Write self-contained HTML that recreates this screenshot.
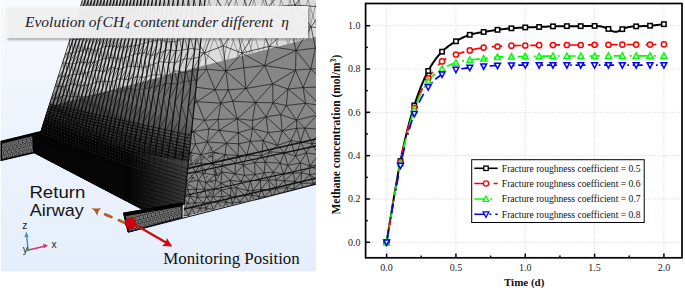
<!DOCTYPE html>
<html><head><meta charset="utf-8"><style>
html,body{margin:0;padding:0;background:#fff;width:685px;height:291px;overflow:hidden;font-family:"Liberation Sans",sans-serif}
svg{display:block}
</style></head><body>
<svg width="685" height="291" viewBox="0 0 685 291">
<defs>
<linearGradient id="bg" x1="0" y1="0" x2="0" y2="1">
<stop offset="0" stop-color="#f8fafd"/><stop offset="0.45" stop-color="#eef4fc"/><stop offset="1" stop-color="#e5eefc"/>
</linearGradient>
<linearGradient id="dk2" gradientUnits="userSpaceOnUse" x1="115" y1="88" x2="94.6" y2="144.7">
<stop offset="0" stop-color="#000" stop-opacity="0"/><stop offset="0.3" stop-color="#000" stop-opacity="0.2"/><stop offset="0.6" stop-color="#000" stop-opacity="0.45"/><stop offset="0.85" stop-color="#000" stop-opacity="0.74"/><stop offset="1" stop-color="#000" stop-opacity="0.95"/>
</linearGradient>
<linearGradient id="lt" gradientUnits="userSpaceOnUse" x1="185" y1="0" x2="128" y2="0">
<stop offset="0" stop-color="#5a5a5a" stop-opacity="0.6"/><stop offset="1" stop-color="#5a5a5a" stop-opacity="0"/>
</linearGradient>
<clipPath id="pc"><rect x="0" y="0" width="316" height="271.5"/></clipPath>
<clipPath id="lf"><polygon points="82,0 205,0 184,205 142,209.5 33,152.5 33,133.2 40.3,131.9"/></clipPath>
<clipPath id="rf"><polygon points="205,0 316,0 316,184.2 183.5,216.8 184,205"/></clipPath>
<pattern id="barmesh" width="4.2" height="7.2" patternUnits="userSpaceOnUse" patternTransform="rotate(-13) translate(0.5,0.8)">
<rect width="4.2" height="7.2" fill="#2c2c2c"/><g fill="none" stroke="#b4b4b4" stroke-width="0.7"><circle cx="2.1" cy="1.8" r="1.3"/><circle cx="0" cy="5.4" r="1.3"/><circle cx="4.2" cy="5.4" r="1.3"/></g>
</pattern>
<pattern id="fine" width="2" height="2" patternUnits="userSpaceOnUse" patternTransform="rotate(-15)">
<rect width="2" height="2" fill="#979797"/><path d="M0,1 L2,1" stroke="#666" stroke-width="0.7"/>
</pattern>
</defs>
<g clip-path="url(#pc)">
<rect x="0" y="0" width="316" height="271.5" fill="url(#bg)"/>
<rect x="0" y="0" width="1" height="271.5" fill="#fbfcfe"/>
<g clip-path="url(#rf)">
<rect x="180" y="0" width="140" height="230" fill="#dcdcdc"/>
<polygon points="150,80 199.5,66.8 316,36.7 316,230 150,230" fill="url(#fine)"/>
<clipPath id="wz"><polygon points="150,0 316,0 316,36.7 199.5,66.8 150,80"/></clipPath>
<path d="M200.0,0 L183.5,70 M200.0,0 L226.8,70 M209.0,0 L194.3,70 M209.0,0 L227.7,70 M218.0,0 L197.6,70 M218.0,0 L244.5,70 M227.0,0 L203.1,70 M227.0,0 L252.9,70 M236.0,0 L221.6,70 M236.0,0 L257.6,70 M245.0,0 L224.6,70 M245.0,0 L264.3,70 M254.0,0 L233.1,70 M254.0,0 L275.3,70 M263.0,0 L245.1,70 M263.0,0 L285.6,70 M272.0,0 L259.9,70 M272.0,0 L297.5,70 M281.0,0 L264.5,70 M281.0,0 L308.9,70 M290.0,0 L268.6,70 M290.0,0 L307.9,70 M299.0,0 L282.4,70 M299.0,0 L315.5,70 M308.0,0 L284.4,70 M308.0,0 L330.2,70 M317.0,0 L298.6,70 M317.0,0 L344.0,70" stroke="#555" stroke-width="0.5" fill="none" clip-path="url(#wz)"/>
<path d="M170.7,29.7 L164.1,66.6 M317.2,115.0 L331.1,117.3 M286.3,105.5 L296.5,120.1 M236.3,26.3 L242.0,53.1 M225.1,154.7 L237.9,155.5 M271.9,197.4 L278.9,202.6 M286.8,187.7 L281.1,195.7 M318.6,154.8 L309.9,165.8 M313.6,183.1 L319.6,181.2 M177.9,133.5 L181.5,143.5 M178.7,10.7 L196.1,8.8 M206.0,182.7 L204.6,189.2 M283.8,215.5 L282.7,222.1 M192.2,86.7 L215.1,89.7 M282.2,131.0 L290.9,140.7 M325.3,207.5 L333.5,209.6 M321.9,202.2 L318.0,208.2 M192.2,86.7 L196.8,101.7 M237.9,155.5 L246.8,155.1 M281.1,195.7 L285.2,202.9 M235.0,173.8 L244.4,175.2 M203.0,173.4 L198.3,180.3 M325.9,233.6 L333.3,234.4 M321.6,228.1 L318.9,235.0 M312.1,143.7 L306.3,152.9 M187.7,203.3 L185.2,208.8 M221.2,190.1 L222.0,196.5 M230.4,195.8 L235.9,196.6 M215.8,180.2 L214.1,189.3 M235.0,173.8 L241.0,181.4 M215.1,89.7 L228.3,89.9 M282.7,222.1 L284.3,226.6 M237.2,118.8 L238.4,132.6 M219.1,130.3 L238.4,132.6 M215.1,89.7 L220.8,103.2 M224.8,215.6 L220.6,221.6 M226.9,222.2 L237.0,221.3 M169.7,195.0 L163.9,203.5 M244.4,175.2 L255.2,174.6 M185.2,208.8 L189.1,215.6 M330.0,226.6 L325.9,233.6 M268.5,180.0 L270.2,190.5 M244.4,175.2 L250.6,180.5 M299.7,201.4 L306.7,201.8 M238.4,132.6 L252.5,128.6 M306.3,152.9 L318.6,154.8 M298.8,226.6 L307.4,227.0 M240.0,201.9 L242.6,208.2 M196.4,189.2 L204.6,189.2 M276.4,188.5 L281.1,195.7 M170.7,29.7 L190.3,30.1 M276.1,179.9 L276.4,188.5 M306.7,201.8 L314.7,203.9 M203.4,214.7 L209.1,215.0 M329.6,86.7 L320.1,105.4 M318.6,154.8 L328.3,153.5 M307.4,227.0 L315.9,229.2 M225.1,154.7 L212.5,163.9 M318.0,208.2 L315.6,213.8 M281.1,195.7 L289.6,196.1 M301.4,172.9 L301.0,183.3 M167.0,100.8 L179.7,101.8 M165.7,131.7 L169.5,143.3 M209.1,215.0 L217.5,214.1 M167.0,100.8 L172.2,120.1 M276.6,216.0 L275.4,220.9 M282.7,222.1 L290.1,221.2 M222.0,196.5 L217.7,202.1 M309.5,174.6 L321.8,172.8 M235.8,208.9 L238.8,214.5 M328.4,180.2 L327.6,189.9 M309.5,174.6 L313.6,183.1 M185.2,208.8 L191.9,207.5 M169.5,143.3 L181.5,143.5 M273.0,102.8 L280.7,114.6 M225.9,70.9 L228.3,89.9 M290.1,221.2 L294.4,222.4 M182.9,163.6 L182.4,173.3 M182.1,234.6 L192.6,235.4 M293.2,202.6 L295.3,208.7 M252.9,190.7 L260.9,189.2 M239.3,-14.9 L225.1,12.0 M198.3,180.3 L196.4,189.2 M191.9,207.5 L200.1,208.2 M166.4,174.5 L168.9,182.8 M253.8,214.1 L262.4,213.7 M221.9,165.2 L235.4,163.3 M192.6,235.4 L196.9,234.3 M185.9,227.2 L182.1,234.6 M286.3,105.5 L305.6,103.3 M268.1,132.6 L263.1,140.6 M262.4,213.7 L269.8,214.1 M286.3,105.5 L280.7,114.6 M170.5,222.7 L166.2,226.7 M254.5,162.5 L264.2,172.8 M271.9,197.4 L268.3,202.1 M206.0,182.7 L215.8,180.2 M331.1,117.3 L329.6,142.0 M163.9,203.5 L171.4,202.3 M214.1,189.3 L206.5,196.9 M235.8,208.9 L242.6,208.2 M282.2,131.0 L277.6,145.4 M218.1,119.4 L208.9,129.0 M166.2,226.7 L172.6,226.5 M192.2,86.7 L179.7,101.8 M240.7,227.6 L243.3,233.2 M235.6,232.9 L243.3,233.2 M165.7,131.7 L167.1,155.5 M225.1,12.0 L215.1,25.4 M221.2,190.1 L212.9,196.9 M260.3,180.6 L252.9,190.7 M242.6,208.2 L252.0,209.6 M235.0,173.8 L230.0,180.4 M237.2,118.8 L219.1,130.3 M247.9,190.6 L251.9,195.1 M223.3,45.9 L225.9,70.9 M326.4,194.7 L329.5,202.6 M261.8,155.9 L265.2,162.3 M243.3,233.2 L249.7,234.5 M206.5,69.2 L215.1,89.7 M319.6,190.3 L327.6,189.9 M268.5,180.0 L260.9,189.2 M207.4,142.0 L200.9,154.7 M315.6,213.8 L323.1,215.4 M220.6,221.6 L216.7,228.7 M329.6,165.1 L331.6,174.1 M269.5,151.8 L280.2,163.1 M250.3,141.4 L261.8,155.9 M215.1,25.4 L223.3,45.9 M217.7,202.1 L225.9,202.0 M276.4,188.5 L271.9,197.4 M205.8,235.0 L228.6,235.7 M304.1,190.0 L312.9,194.6 M216.7,228.7 L225.5,228.6 M168.4,164.8 L175.6,172.8 M291.4,227.2 L296.6,234.2 M263.1,140.6 L269.5,151.8 M311.1,26.9 L337.5,30.4 M180.9,203.0 L175.8,208.1 M301.4,172.9 L295.0,181.4 M195.5,215.9 L199.2,222.0 M212.5,163.9 L221.9,165.2 M296.6,234.2 L302.5,234.6 M180.2,228.9 L176.2,235.2 M175.4,88.0 L167.0,100.8 M326.4,194.7 L334.1,195.2 M273.0,102.8 L286.3,105.5 M273.0,102.8 L266.0,116.8 M275.4,220.9 L269.9,229.0 M221.9,172.0 L221.0,183.3 M182.9,163.6 L175.6,172.8 M167.1,155.5 L168.4,164.8 M198.3,180.3 L206.0,182.7 M204.6,52.9 L206.5,69.2 M175.8,208.1 L171.1,214.6 M250.3,141.4 L263.1,140.6 M331.0,214.3 L327.9,220.8 M243.4,165.2 L244.4,175.2 M174.6,155.3 L182.9,163.6 M288.3,209.2 L292.1,214.9 M304.1,190.0 L312.0,190.0 M296.0,50.5 L315.4,48.1 M232.4,203.2 L229.8,208.6 M249.2,213.7 L250.6,220.3 M263.1,140.6 L277.6,145.4 M327.9,220.8 L330.0,226.6 M190.0,196.1 L194.9,202.8 M287.7,165.5 L300.2,162.8 M254.5,162.5 L255.2,174.6 M232.0,228.6 L228.6,235.7 M312.0,190.0 L319.6,190.3 M192.8,223.0 L196.0,228.2 M229.8,208.6 L231.1,214.1 M218.1,119.4 L237.2,118.8 M309.1,216.3 L315.6,213.8 M300.2,162.8 L309.9,165.8 M246.8,155.1 L243.4,165.2 M240.7,227.6 L235.6,232.9 M320.7,129.4 L329.6,142.0 M260.3,180.6 L268.5,180.0 M207.1,-15.0 L239.3,-14.9 M210.5,202.1 L217.7,202.1 M237.2,118.8 L252.6,120.4 M167.1,155.5 L174.6,155.3 M209.8,229.0 L216.7,228.7 M326.4,194.7 L321.9,202.2 M261.8,155.9 L254.5,162.5 M268.5,180.0 L276.1,179.9 M239.3,-14.9 L259.4,-16.8 M206.5,69.2 L192.2,86.7 M264.7,65.6 L295.5,70.1 M285.2,202.9 L280.3,209.2 M288.3,209.2 L295.3,208.7 M174.6,155.3 L190.9,152.6 M245.0,195.5 L248.7,202.0 M182.4,173.3 L195.6,172.0 M329.6,165.1 L321.8,172.8 M328.3,153.5 L329.6,165.1 M288.9,233.4 L296.6,234.2 M250.3,141.4 L246.8,155.1 M284.3,226.6 L281.6,235.2 M190.0,196.1 L197.2,197.4 M245.1,222.3 L245.7,229.3 M215.1,25.4 L204.6,52.9 M182.6,189.1 L183.1,197.3 M295.5,70.1 L310.8,69.0 M280.3,209.2 L283.8,215.5 M189.1,215.6 L182.0,222.5 M192.8,223.0 L199.2,222.0 M205.8,235.0 L222.4,234.2 M304.1,190.0 L304.0,196.2 M195.6,172.0 L203.0,173.4 M168.4,164.8 L166.4,174.5 M306.2,-8.3 L324.8,7.2 M319.6,181.2 L328.4,180.2 M291.4,227.2 L288.9,233.4 M183.1,197.3 L187.7,203.3 M221.0,183.3 L231.2,188.1 M262.3,203.0 L268.3,202.1 M170.4,209.9 L165.8,214.2 M172.2,120.1 L177.9,133.5 M165.7,131.7 L177.9,133.5 M182.0,222.5 L185.9,227.2 M246.8,155.1 L261.8,155.9 M195.5,215.9 L192.8,223.0 M263.4,227.2 L269.9,229.0 M164.1,66.6 L165.7,131.7 M236.4,187.9 L245.0,195.5 M225.1,12.0 L247.3,9.3 M230.0,180.4 L236.4,187.9 M165.8,214.2 L171.1,214.6 M238.8,214.5 L245.1,222.3 M261.8,155.9 L269.5,151.8 M269.9,229.0 L277.3,227.3 M221.9,172.0 L215.8,180.2 M245.0,195.5 L251.9,195.1 M294.4,222.4 L298.8,226.6 M204.6,52.9 L181.1,71.9 M318.6,196.4 L314.7,203.9 M245.9,88.5 L272.6,83.8 M266.0,116.8 L268.1,132.6 M245.9,88.5 L255.5,102.4 M245.1,222.3 L250.6,220.3 M264.2,172.8 L273.3,172.0 M243.4,165.2 L235.0,173.8 M235.9,196.6 L240.0,201.9 M284.3,180.9 L286.8,187.7 M314.7,203.9 L321.9,202.2 M238.6,143.8 L237.9,155.5 M222.5,208.7 L217.5,214.1 M268.1,132.6 L282.2,131.0 M280.7,114.6 L282.2,131.0 M296.0,50.5 L310.8,69.0 M250.6,220.3 L257.4,220.6 M249.2,213.7 L245.1,222.3 M315.9,229.2 L321.6,228.1 M327.9,220.8 L321.6,228.1 M334.1,188.1 L334.5,220.4 M293.3,173.0 L284.3,180.9 M214.1,189.3 L221.2,190.1 M293.4,189.0 L297.1,194.8 M295.0,181.4 L293.4,189.0 M229.8,208.6 L224.8,215.6 M217.5,214.1 L224.8,215.6 M321.6,228.1 L330.0,226.6 M171.6,188.1 L177.8,196.3 M194.9,202.8 L200.1,208.2 M224.8,215.6 L231.1,214.1 M294.4,222.4 L302.8,220.4 M301.2,214.1 L302.8,220.4 M255.5,102.4 L237.2,118.8 M203.7,202.9 L206.2,207.9 M208.9,129.0 L207.4,142.0 M305.6,103.3 L317.2,115.0 M264.7,65.6 L272.6,83.8 M302.8,220.4 L312.4,222.1 M201.8,228.3 L205.8,235.0 M333.5,209.6 L334.5,220.4 M289.0,-15.3 L267.7,7.3 M328.3,153.5 L320.4,165.0 M177.8,196.3 L171.4,202.3 M196.1,8.8 L225.1,12.0 M182.6,189.1 L177.8,196.3 M182.4,173.3 L185.6,182.5 M280.3,209.2 L276.6,216.0 M320.1,105.4 L331.1,117.3 M205.8,235.0 L212.1,233.6 M200.9,154.7 L212.5,163.9 M215.1,174.8 L206.0,182.7 M306.2,-8.3 L294.9,5.0 M183.1,197.3 L180.9,203.0 M231.2,188.1 L230.4,195.8 M221.0,183.3 L221.2,190.1 M228.3,89.9 L245.9,88.5 M304.8,128.1 L312.1,143.7 M276.6,216.0 L283.8,215.5 M228.3,89.9 L232.8,101.2 M182.0,222.5 L180.2,228.9 M280.2,163.1 L283.7,174.3 M255.2,174.6 L264.2,172.8 M267.7,7.3 L290.6,26.1 M236.4,187.9 L235.9,196.6 M256.3,203.2 L257.1,209.5 M255.2,174.6 L260.3,180.6 M252.5,128.6 L268.1,132.6 M321.8,172.8 L328.4,180.2 M238.8,214.5 L237.0,221.3 M260.5,234.5 L274.0,235.0 M255.8,227.0 L260.5,234.5 M294.9,5.0 L311.1,26.9 M190.3,30.1 L215.1,25.4 M333.5,209.6 L331.0,214.3 M164.1,66.6 L163.1,189.2 M266.0,116.8 L252.5,128.6 M289.0,-15.3 L333.1,-8.7 M235.9,196.6 L232.4,203.2 M284.3,180.9 L276.4,188.5 M179.7,101.8 L196.8,101.7 M179.7,101.8 L185.2,117.0 M237.0,221.3 L232.0,228.6 M168.4,164.8 L182.9,163.6 M302.5,234.6 L318.9,235.0 M175.6,172.8 L180.2,181.2 M336.4,67.5 L331.1,117.3 M277.6,145.4 L284.2,152.7 M259.8,24.9 L269.2,46.3 M293.4,189.0 L289.6,196.1 M297.1,194.8 L304.0,196.2 M196.8,101.7 L220.8,103.2 M228.6,235.7 L260.5,234.5 M193.4,131.6 L195.4,143.9 M181.5,143.5 L195.4,143.9 M167.3,235.4 L228.6,235.7 M292.1,214.9 L290.1,221.2 M191.2,164.3 L195.6,172.0 M334.1,195.2 L334.5,220.4 M290.9,140.7 L295.6,156.2 M252.0,209.6 L253.8,214.1 M290.6,26.1 L296.0,50.5 M259.4,-16.8 L247.3,9.3 M289.6,196.1 L293.2,202.6 M172.3,52.4 L204.6,52.9 M171.6,188.1 L169.7,195.0 M200.1,208.2 L206.2,207.9 M194.9,202.8 L191.9,207.5 M195.4,143.9 L207.4,142.0 M290.1,221.2 L291.4,227.2 M235.4,163.3 L243.4,165.2 M301.2,214.1 L294.4,222.4 M201.1,163.0 L203.0,173.4 M196.0,228.2 L192.6,235.4 M196.9,234.3 L205.8,235.0 M270.2,190.5 L276.4,188.5 M204.6,52.9 L223.3,45.9 M191.9,207.5 L195.5,215.9 M305.6,103.3 L320.1,105.4 M203.7,202.9 L200.1,208.2 M269.8,214.1 L276.6,216.0 M305.6,103.3 L296.5,120.1 M243.4,165.2 L254.5,162.5 M201.8,228.3 L196.9,234.3 M329.6,142.0 L329.6,165.1 M242.0,53.1 L243.8,67.7 M171.4,202.3 L180.9,203.0 M204.6,189.2 L214.1,189.3 M277.6,145.4 L290.9,140.7 M296.8,128.2 L290.9,140.7 M172.6,226.5 L180.2,228.9 M265.2,162.3 L264.2,172.8 M221.0,183.3 L230.0,180.4 M200.9,154.7 L201.1,163.0 M303.8,209.2 L309.1,216.3 M269.2,46.3 L264.7,65.6 M247.3,9.3 L236.3,26.3 M164.1,66.6 L181.1,71.9 M252.0,209.6 L257.1,209.5 M248.7,202.0 L242.6,208.2 M325.3,207.5 L323.1,215.4 M304.8,128.1 L300.6,142.0 M290.9,140.7 L300.6,142.0 M167.3,235.4 L192.6,235.4 M206.5,196.9 L210.5,202.1 M289.6,196.1 L297.1,194.8 M280.2,163.1 L273.3,172.0 M249.7,234.5 L260.5,234.5 M245.7,229.3 L243.3,233.2 M181.5,143.5 L190.9,152.6 M327.6,189.9 L334.1,188.1 M206.9,221.7 L209.8,229.0 M267.7,7.3 L259.8,24.9 M230.4,195.8 L225.9,202.0 M181.1,71.9 L206.5,69.2 M321.8,172.8 L331.6,174.1 M242.6,208.2 L249.2,213.7 M256.3,203.2 L252.0,209.6 M323.1,215.4 L331.0,214.3 M226.9,222.2 L225.5,228.6 M320.4,165.0 L329.6,165.1 M321.8,172.8 L319.6,181.2 M284.2,152.7 L287.7,165.5 M189.0,-14.4 L196.1,8.8 M255.8,227.0 L249.7,234.5 M319.6,190.3 L326.4,194.7 M165.7,131.7 L163.1,189.2 M243.8,67.7 L245.9,88.5 M225.9,202.0 L232.4,203.2 M299.7,201.4 L303.8,209.2 M266.0,116.8 L280.7,114.6 M260.9,189.2 L270.2,190.5 M225.5,228.6 L232.0,228.6 M298.8,226.6 L302.5,234.6 M284.3,180.9 L295.0,181.4 M289.0,-15.3 L306.2,-8.3 M236.3,26.3 L223.3,45.9 M185.6,182.5 L196.4,189.2 M306.7,201.8 L310.1,210.2 M303.8,209.2 L310.1,210.2 M203.4,214.7 L206.9,221.7 M200.9,154.7 L213.0,152.1 M177.9,133.5 L169.5,143.3 M334.1,195.2 L333.5,209.6 M175.6,172.8 L168.9,182.8 M302.5,234.6 L312.4,233.2 M307.4,227.0 L312.4,233.2 M277.6,145.4 L269.5,151.8 M206.5,196.9 L212.9,196.9 M259.8,24.9 L242.0,53.1 M281.1,195.7 L278.9,202.6 M334.5,220.4 L333.3,234.4 M215.8,180.2 L221.0,183.3 M209.1,215.0 L215.4,221.8 M206.9,221.7 L215.4,221.8 M193.4,131.6 L181.5,143.5 M228.6,235.7 L249.7,234.5 M282.7,222.1 L277.3,227.3 M163.9,203.5 L165.8,214.2 M191.2,164.3 L182.4,173.3 M215.1,89.7 L196.8,101.7 M241.0,181.4 L247.9,190.6 M278.9,202.6 L285.2,202.9 M289.6,196.1 L285.2,202.9 M169.5,143.3 L174.6,155.3 M185.2,208.8 L181.0,215.1 M204.5,120.3 L208.9,129.0 M277.3,227.3 L284.3,226.6 M290.1,221.2 L284.3,226.6 M244.4,175.2 L241.0,181.4 M189.0,-14.4 L259.4,-16.8 M252.9,190.7 L258.9,196.8 M309.9,165.8 L320.4,165.0 M250.6,180.5 L252.9,190.7 M296.5,120.1 L304.8,128.1 M192.6,235.4 L228.6,235.7 M287.9,89.0 L305.6,103.3 M253.8,214.1 L257.4,220.6 M309.9,165.8 L321.8,172.8 M240.0,201.9 L235.8,208.9 M191.9,207.5 L189.1,215.6 M260.9,189.2 L264.6,196.7 M242.0,53.1 L225.9,70.9 M334.1,195.2 L329.5,202.6 M317.2,115.0 L320.7,129.4 M262.4,213.7 L265.5,221.4 M281.6,235.2 L302.5,234.6 M334.5,220.4 L330.0,226.6 M166.6,-11.9 L178.7,10.7 M313.6,183.1 L319.6,190.3 M163.9,203.5 L170.4,209.9 M235.8,208.9 L231.1,214.1 M252.6,120.4 L266.0,116.8 M166.2,226.7 L167.3,235.4 M309.5,174.6 L301.0,183.3 M259.4,-16.8 L289.0,-15.3 M225.9,70.9 L215.1,89.7 M242.6,208.2 L238.8,214.5 M293.2,202.6 L288.3,209.2 M319.6,190.3 L318.6,196.4 M188.0,189.7 L190.0,196.1 M180.2,181.2 L182.6,189.1 M310.8,69.0 L336.4,67.5 M238.4,132.6 L250.3,141.4 M299.7,201.4 L295.3,208.7 M310.8,69.0 L329.6,86.7 M315.6,213.8 L317.7,220.8 M221.9,165.2 L235.0,173.8 M298.8,226.6 L296.6,234.2 M196.4,189.2 L197.2,197.4 M217.7,202.1 L222.5,208.7 M190.9,152.6 L191.2,164.3 M295.3,208.7 L301.2,214.1 M185.2,117.0 L193.4,131.6 M177.9,133.5 L193.4,131.6 M203.4,214.7 L199.2,222.0 M216.7,228.7 L222.4,234.2 M215.1,174.8 L221.9,172.0 M178.7,10.7 L190.3,30.1 M197.2,197.4 L203.7,202.9 M247.3,9.3 L267.7,7.3 M199.2,222.0 L201.8,228.3 M171.6,188.1 L182.6,189.1 M247.9,190.6 L245.0,195.5 M241.0,181.4 L236.4,187.9 M272.6,83.8 L287.9,89.0 M169.5,143.3 L167.1,155.5 M181.0,215.1 L189.1,215.6 M272.6,83.8 L273.0,102.8 M220.8,103.2 L237.2,118.8 M324.8,7.2 L337.5,30.4 M252.9,190.7 L251.9,195.1 M312.4,222.1 L315.9,229.2 M258.9,196.8 L264.6,196.7 M269.5,151.8 L265.2,162.3 M276.1,179.9 L284.3,180.9 M296.5,120.1 L296.8,128.2 M168.9,182.8 L171.6,188.1 M257.4,220.6 L265.5,221.4 M309.9,165.8 L309.5,174.6 M253.8,214.1 L250.6,220.3 M283.7,174.3 L293.3,173.0 M295.3,208.7 L303.8,209.2 M295.5,70.1 L303.1,87.5 M170.7,29.7 L172.3,52.4 M190.9,152.6 L200.9,154.7 M251.9,195.1 L256.3,203.2 M236.3,26.3 L259.8,24.9 M301.0,183.3 L304.1,190.0 M263.1,140.6 L261.8,155.9 M197.2,197.4 L206.5,196.9 M250.6,220.3 L255.8,227.0 M199.2,222.0 L206.9,221.7 M231.2,188.1 L236.4,187.9 M312.0,190.0 L312.9,194.6 M203.0,173.4 L215.1,174.8 M231.1,214.1 L238.8,214.5 M309.1,216.3 L312.4,222.1 M191.2,164.3 L201.1,163.0 M212.5,163.9 L221.9,172.0 M268.3,202.1 L278.9,202.6 M312.9,194.6 L318.6,196.4 M210.5,202.1 L213.5,209.8 M163.1,189.2 L171.6,188.1 M219.1,130.3 L226.4,143.2 M312.4,222.1 L317.7,220.8 M209.8,229.0 L212.1,233.6 M180.2,181.2 L185.6,182.5 M171.1,214.6 L181.0,215.1 M165.8,214.2 L166.2,226.7 M269.5,151.8 L284.2,152.7 M304.0,196.2 L306.7,201.8 M188.0,189.7 L183.1,197.3 M213.5,209.8 L222.5,208.7 M174.6,155.3 L168.4,164.8 M288.3,209.2 L283.8,215.5 M226.4,143.2 L238.6,143.8 M302.8,220.4 L307.4,227.0 M251.9,195.1 L258.9,196.8 M264.2,172.8 L268.5,180.0 M315.6,213.8 L312.4,222.1 M221.9,165.2 L221.9,172.0 M167.1,155.5 L163.1,189.2 M286.8,187.7 L293.4,189.0 M333.1,-8.7 L324.8,7.2 M190.0,196.1 L187.7,203.3 M273.3,172.0 L283.7,174.3 M206.2,207.9 L209.1,215.0 M190.9,152.6 L182.9,163.6 M283.8,215.5 L292.1,214.9 M295.3,208.7 L292.1,214.9 M329.6,86.7 L331.1,117.3 M185.2,117.0 L177.9,133.5 M265.2,162.3 L280.2,163.1 M287.7,165.5 L293.3,173.0 M273.3,172.0 L276.1,179.9 M216.7,228.7 L212.1,233.6 M282.2,131.0 L296.8,128.2 M321.9,202.2 L329.5,202.6 M225.1,154.7 L235.4,163.3 M315.4,48.1 L336.4,67.5 M192.8,223.0 L185.9,227.2 M197.2,197.4 L194.9,202.8 M187.7,203.3 L194.9,202.8 M262.3,203.0 L267.4,208.6 M221.2,190.1 L231.2,188.1 M320.7,129.4 L312.1,143.7 M199.2,222.0 L196.0,228.2 M300.2,162.8 L301.4,172.9 M263.4,227.2 L266.8,233.7 M241.0,181.4 L250.6,180.5 M182.9,163.6 L191.2,164.3 M267.4,208.6 L272.1,209.3 M268.3,202.1 L272.1,209.3 M165.8,214.2 L170.5,222.7 M304.0,196.2 L312.9,194.6 M220.8,103.2 L232.8,101.2 M269.9,229.0 L274.0,235.0 M220.8,103.2 L218.1,119.4 M324.8,7.2 L311.1,26.9 M245.0,195.5 L240.0,201.9 M168.9,182.8 L180.2,181.2 M171.1,214.6 L174.8,221.0 M296.5,120.1 L282.2,131.0 M245.1,222.3 L240.7,227.6 M168.9,182.8 L163.1,189.2 M206.2,207.9 L213.5,209.8 M306.3,152.9 L309.9,165.8 M295.5,70.1 L287.9,89.0 M251.9,195.1 L248.7,202.0 M304.1,190.0 L297.1,194.8 M314.7,203.9 L318.0,208.2 M250.6,220.3 L245.7,229.3 M195.6,172.0 L198.3,180.3 M315.9,229.2 L318.9,235.0 M172.2,120.1 L165.7,131.7 M311.1,26.9 L315.4,48.1 M297.1,194.8 L299.7,201.4 M212.1,233.6 L222.4,234.2 M321.9,202.2 L325.3,207.5 M217.5,214.1 L220.6,221.6 M230.0,180.4 L231.2,188.1 M309.1,216.3 L302.8,220.4 M321.6,228.1 L325.9,233.6 M212.5,163.9 L215.1,174.8 M221.2,190.1 L230.4,195.8 M223.3,45.9 L242.0,53.1 M200.1,208.2 L203.4,214.7 M237.2,118.8 L252.5,128.6 M210.5,202.1 L206.2,207.9 M224.8,215.6 L226.9,222.2 M219.1,130.3 L207.4,142.0 M294.4,222.4 L291.4,227.2 M209.8,229.0 L205.8,235.0 M167.1,155.5 L166.4,174.5 M245.9,88.5 L232.8,101.2 M185.9,227.2 L196.0,228.2 M268.5,180.0 L276.4,188.5 M304.0,196.2 L299.7,201.4 M215.1,25.4 L236.3,26.3 M302.8,220.4 L298.8,226.6 M264.2,172.8 L260.3,180.6 M296.0,50.5 L295.5,70.1 M266.8,233.7 L274.0,235.0 M206.2,207.9 L203.4,214.7 M295.0,181.4 L286.8,187.7 M273.3,172.0 L268.5,180.0 M287.7,165.5 L283.7,174.3 M329.6,142.0 L334.1,188.1 M196.8,101.7 L204.5,120.3 M319.6,181.2 L327.6,189.9 M315.4,48.1 L310.8,69.0 M262.3,203.0 L257.1,209.5 M276.6,216.0 L282.7,222.1 M331.6,174.1 L328.4,180.2 M300.2,162.8 L293.3,173.0 M263.4,227.2 L260.5,234.5 M207.1,-15.0 L225.1,12.0 M327.6,189.9 L334.1,195.2 M328.4,180.2 L334.1,188.1 M318.9,235.0 L333.3,234.4 M163.9,203.5 L166.2,226.7 M300.6,142.0 L306.3,152.9 M257.1,209.5 L262.4,213.7 M239.3,-14.9 L247.3,9.3 M207.4,142.0 L226.4,143.2 M220.8,103.2 L204.5,120.3 M264.7,65.6 L245.9,88.5 M198.3,180.3 L204.6,189.2 M301.0,183.3 L313.6,183.1 M240.0,201.9 L248.7,202.0 M276.4,188.5 L286.8,187.7 M329.6,142.0 L331.6,174.1 M182.4,173.3 L180.2,181.2 M320.1,105.4 L317.2,115.0 M295.5,70.1 L272.6,83.8 M254.5,162.5 L265.2,162.3 M268.1,132.6 L277.6,145.4 M318.0,208.2 L325.3,207.5 M314.7,203.9 L310.1,210.2 M170.5,222.7 L172.6,226.5 M180.9,203.0 L187.7,203.3 M221.0,183.3 L214.1,189.3 M172.2,120.1 L185.2,117.0 M195.6,172.0 L185.6,182.5 M315.9,229.2 L312.4,233.2 M228.3,89.9 L220.8,103.2 M214.1,189.3 L212.9,196.9 M311.1,26.9 L296.0,50.5 M222.0,196.5 L230.4,195.8 M213.0,152.1 L212.5,163.9 M230.0,180.4 L241.0,181.4 M180.2,228.9 L185.9,227.2 M218.1,119.4 L219.1,130.3 M310.1,210.2 L315.6,213.8 M297.1,194.8 L293.2,202.6 M217.5,214.1 L215.4,221.8 M257.1,209.5 L267.4,208.6 M255.2,174.6 L250.6,180.5 M212.5,163.9 L203.0,173.4 M225.1,12.0 L236.3,26.3 M300.6,142.0 L312.1,143.7 M212.9,196.9 L217.7,202.1 M260.3,180.6 L260.9,189.2 M260.5,234.5 L266.8,233.7 M293.2,202.6 L299.7,201.4 M195.4,143.9 L200.9,154.7 M331.6,174.1 L334.1,188.1 M200.1,208.2 L195.5,215.9 M215.4,221.8 L216.7,228.7 M294.9,5.0 L290.6,26.1 M206.5,69.2 L225.9,70.9 M188.0,189.7 L196.4,189.2 M176.2,235.2 L192.6,235.4 M270.2,190.5 L271.9,197.4 M295.6,156.2 L300.2,162.8 M207.4,142.0 L213.0,152.1 M220.6,221.6 L225.5,228.6 M269.8,214.1 L275.4,220.9 M232.4,203.2 L240.0,201.9 M280.7,114.6 L296.5,120.1 M170.5,222.7 L174.8,221.0 M179.7,101.8 L172.2,120.1 M232.0,228.6 L240.7,227.6 M296.0,50.5 L264.7,65.6 M171.4,202.3 L175.8,208.1 M271.9,197.4 L281.1,195.7 M295.0,181.4 L301.0,183.3 M331.1,117.3 L320.7,129.4 M306.2,-8.3 L333.1,-8.7 M172.6,226.5 L176.2,235.2 M301.4,172.9 L309.5,174.6 M310.1,210.2 L318.0,208.2 M213.0,152.1 L225.1,154.7 M264.6,196.7 L268.3,202.1 M196.8,101.7 L185.2,117.0 M240.7,227.6 L245.7,229.3 M319.6,181.2 L319.6,190.3 M312.4,233.2 L318.9,235.0 M228.6,235.7 L318.9,235.0 M290.9,140.7 L284.2,152.7 M252.0,209.6 L249.2,213.7 M212.9,196.9 L222.0,196.5 M265.5,221.4 L269.9,229.0 M290.6,26.1 L269.2,46.3 M180.9,203.0 L185.2,208.8 M175.4,88.0 L192.2,86.7 M180.2,228.9 L182.1,234.6 M175.4,88.0 L179.7,101.8 M215.4,221.8 L220.6,221.6 M247.9,190.6 L252.9,190.7 M207.1,-15.0 L196.1,8.8 M331.1,117.3 L334.1,188.1 M221.9,172.0 L235.0,173.8 M327.6,189.9 L326.4,194.7 M318.9,235.0 L325.9,233.6 M201.1,163.0 L195.6,172.0 M300.6,142.0 L295.6,156.2 M252.5,128.6 L263.1,140.6 M257.1,209.5 L253.8,214.1 M275.4,220.9 L277.3,227.3 M323.1,215.4 L327.9,220.8 M221.9,172.0 L230.0,180.4 M285.2,202.9 L293.2,202.6 M208.9,129.0 L219.1,130.3 M204.6,52.9 L225.9,70.9 M220.6,221.6 L226.9,222.2 M334.1,188.1 L334.1,195.2 M284.3,226.6 L291.4,227.2 M175.8,208.1 L181.0,215.1 M225.9,202.0 L229.8,208.6 M182.6,189.1 L188.0,189.7 M331.0,214.3 L334.5,220.4 M243.4,165.2 L255.2,174.6 M225.5,228.6 L228.6,235.7 M189.1,215.6 L195.5,215.9 M303.1,87.5 L320.1,105.4 M196.1,8.8 L215.1,25.4 M291.4,227.2 L298.8,226.6 M232.4,203.2 L235.8,208.9 M200.9,154.7 L191.2,164.3 M303.8,209.2 L301.2,214.1 M264.6,196.7 L271.9,197.4 M232.0,228.6 L235.6,232.9 M195.5,215.9 L203.4,214.7 M164.1,66.6 L175.4,88.0 M265.5,221.4 L275.4,220.9 M206.5,196.9 L203.7,202.9 M164.1,66.6 L167.0,100.8 M228.6,235.7 L281.6,235.2 M181.5,143.5 L174.6,155.3 M310.1,210.2 L309.1,216.3 M206.9,221.7 L201.8,228.3 M246.8,155.1 L254.5,162.5 M207.1,-15.0 L259.4,-16.8 M181.1,71.9 L192.2,86.7 M275.4,220.9 L282.7,222.1 M212.9,196.9 L210.5,202.1 M278.9,202.6 L280.3,209.2 M284.2,152.7 L280.2,163.1 M336.4,67.5 L334.1,188.1 M189.0,-14.4 L178.7,10.7 M195.4,143.9 L190.9,152.6 M215.4,221.8 L209.8,229.0 M175.8,208.1 L185.2,208.8 M320.4,165.0 L321.8,172.8 M277.3,227.3 L281.6,235.2 M255.5,102.4 L266.0,116.8 M190.3,30.1 L204.6,52.9 M258.9,196.8 L262.3,203.0 M176.2,235.2 L182.1,234.6 M270.2,190.5 L264.6,196.7 M285.2,202.9 L288.3,209.2 M295.6,156.2 L287.7,165.5 M257.4,220.6 L263.4,227.2 M185.6,182.5 L188.0,189.7 M269.8,214.1 L265.5,221.4 M284.3,226.6 L288.9,233.4 M249.2,213.7 L253.8,214.1 M306.7,201.8 L303.8,209.2 M307.4,227.0 L302.5,234.6 M171.4,202.3 L170.4,209.9 M189.1,215.6 L192.8,223.0 M204.6,189.2 L206.5,196.9 M172.6,226.5 L167.3,235.4 M193.4,131.6 L208.9,129.0 M166.6,-11.9 L164.1,66.6 M209.1,215.0 L206.9,221.7 M228.6,235.7 L243.3,233.2 M264.6,196.7 L262.3,203.0 M170.4,209.9 L171.1,214.6 M267.7,7.3 L294.9,5.0 M265.5,221.4 L263.4,227.2 M204.5,120.3 L193.4,131.6 M172.3,52.4 L181.1,71.9 M284.2,152.7 L295.6,156.2 M312.9,194.6 L314.7,203.9 M252.5,128.6 L250.3,141.4 M294.9,5.0 L324.8,7.2 M250.6,180.5 L247.9,190.6 M323.1,215.4 L317.7,220.8 M287.9,89.0 L303.1,87.5 M235.4,163.3 L235.0,173.8 M287.9,89.0 L286.3,105.5 M295.6,156.2 L306.3,152.9 M318.6,196.4 L321.9,202.2 M226.4,143.2 L237.9,155.5 M213.5,209.8 L217.5,214.1 M266.0,116.8 L282.2,131.0 M225.9,202.0 L222.5,208.7 M260.9,189.2 L258.9,196.8 M317.7,220.8 L321.6,228.1 M283.7,174.3 L284.3,180.9 M303.1,87.5 L329.6,86.7 M225.5,228.6 L222.4,234.2 M317.2,115.0 L304.8,128.1 M296.8,128.2 L304.8,128.1 M303.1,87.5 L305.6,103.3 M262.4,213.7 L257.4,220.6 M196.1,8.8 L190.3,30.1 M281.6,235.2 L296.6,234.2 M238.6,143.8 L246.8,155.1 M222.5,208.7 L224.8,215.6 M293.3,173.0 L301.4,172.9 M259.8,24.9 L290.6,26.1 M313.6,183.1 L312.0,190.0 M170.4,209.9 L175.8,208.1 M293.3,173.0 L295.0,181.4 M304.8,128.1 L320.7,129.4 M167.3,235.4 L176.2,235.2 M228.6,235.7 L274.0,235.0 M236.4,187.9 L247.9,190.6 M290.6,26.1 L311.1,26.9 M232.8,101.2 L255.5,102.4 M238.8,214.5 L249.2,213.7 M232.8,101.2 L237.2,118.8 M181.1,71.9 L175.4,88.0 M201.1,163.0 L212.5,163.9 M267.4,208.6 L269.8,214.1 M278.9,202.6 L272.1,209.3 M181.0,215.1 L182.0,222.5 M318.6,196.4 L326.4,194.7 M319.6,190.3 L312.9,194.6 M180.2,181.2 L171.6,188.1 M255.5,102.4 L273.0,102.8 M277.3,227.3 L274.0,235.0 M238.4,132.6 L238.6,143.8 M255.5,102.4 L252.6,120.4 M310.8,69.0 L303.1,87.5 M317.7,220.8 L327.9,220.8 M190.3,30.1 L172.3,52.4 M258.9,196.8 L256.3,203.2 M329.6,142.0 L328.3,153.5 M185.6,182.5 L198.3,180.3 M272.1,209.3 L276.6,216.0 M242.0,53.1 L269.2,46.3 M196.4,189.2 L190.0,196.1 M257.4,220.6 L255.8,227.0 M222.5,208.7 L229.8,208.6 M185.6,182.5 L182.6,189.1 M217.7,202.1 L213.5,209.8 M289.0,-15.3 L294.9,5.0 M238.6,143.8 L250.3,141.4 M177.8,196.3 L180.9,203.0 M336.4,67.5 L329.6,86.7 M327.9,220.8 L334.5,220.4 M222.4,234.2 L228.6,235.7 M329.5,202.6 L333.5,209.6 M293.4,189.0 L304.1,190.0 M174.8,221.0 L180.2,228.9 M178.7,10.7 L170.7,29.7 M269.2,46.3 L296.0,50.5 M204.6,189.2 L197.2,197.4 M229.8,208.6 L235.8,208.9 M215.1,174.8 L215.8,180.2 M292.1,214.9 L301.2,214.1 M167.0,100.8 L165.7,131.7 M231.2,188.1 L235.9,196.6 M280.2,163.1 L287.7,165.5 M228.6,235.7 L235.6,232.9 M237.9,155.5 L243.4,165.2 M231.1,214.1 L237.0,221.3 M194.9,202.8 L203.7,202.9 M204.5,120.3 L218.1,119.4 M301.2,214.1 L309.1,216.3 M272.6,83.8 L255.5,102.4 M196.0,228.2 L201.8,228.3 M172.3,52.4 L164.1,66.6 M312.9,194.6 L306.7,201.8 M250.6,180.5 L260.3,180.6 M189.0,-14.4 L207.1,-15.0 M203.7,202.9 L210.5,202.1 M312.4,222.1 L307.4,227.0 M272.1,209.3 L280.3,209.2 M287.9,89.0 L273.0,102.8 M201.8,228.3 L209.8,229.0 M309.9,165.8 L301.4,172.9 M274.0,235.0 L281.6,235.2 M226.4,143.2 L225.1,154.7 M213.5,209.8 L209.1,215.0 M177.8,196.3 L183.1,197.3 M317.7,220.8 L315.9,229.2 M280.3,209.2 L288.3,209.2 M283.7,174.3 L276.1,179.9 M301.0,183.3 L293.4,189.0 M174.8,221.0 L182.0,222.5 M286.8,187.7 L289.6,196.1 M175.6,172.8 L182.4,173.3 M318.6,154.8 L320.4,165.0 M281.6,235.2 L288.9,233.4 M183.1,197.3 L190.0,196.1 M237.0,221.3 L240.7,227.6 M206.0,182.7 L214.1,189.3 M336.4,67.5 L334.5,220.4 M248.7,202.0 L256.3,203.2 M283.8,215.5 L290.1,221.2 M313.6,183.1 L304.1,190.0 M166.6,-11.9 L170.7,29.7 M182.0,222.5 L192.8,223.0 M245.7,229.3 L255.8,227.0 M203.0,173.4 L206.0,182.7 M187.7,203.3 L191.9,207.5 M312.1,143.7 L318.6,154.8 M193.4,131.6 L207.4,142.0 M292.1,214.9 L294.4,222.4 M256.3,203.2 L262.3,203.0 M259.4,-16.8 L267.7,7.3 M169.7,195.0 L171.4,202.3 M255.8,227.0 L263.4,227.2 M330.0,226.6 L333.3,234.4 M267.4,208.6 L262.4,213.7 M337.5,30.4 L315.4,48.1 M181.0,215.1 L174.8,221.0 M196.0,228.2 L196.9,234.3 M337.5,30.4 L336.4,67.5 M238.4,132.6 L226.4,143.2 M163.1,189.2 L163.9,203.5 M329.6,142.0 L318.6,154.8 M272.1,209.3 L269.8,214.1 M235.9,196.6 L245.0,195.5 M333.1,-8.7 L337.5,30.4 M185.2,117.0 L204.5,120.3 M242.0,53.1 L264.7,65.6 M237.0,221.3 L245.1,222.3 M225.1,154.7 L221.9,165.2 M318.0,208.2 L323.1,215.4 M281.6,235.2 L318.9,235.0 M296.8,128.2 L300.6,142.0 M166.6,-11.9 L189.0,-14.4 M174.8,221.0 L172.6,226.5 M329.5,202.6 L325.3,207.5 M265.2,162.3 L273.3,172.0 M312.1,143.7 L329.6,142.0 M247.3,9.3 L259.8,24.9 M222.0,196.5 L225.9,202.0 M248.7,202.0 L252.0,209.6 M237.9,155.5 L235.4,163.3 M325.3,207.5 L331.0,214.3 M252.6,120.4 L252.5,128.6 M169.7,195.0 L177.8,196.3 M309.5,174.6 L319.6,181.2 M231.1,214.1 L226.9,222.2 M225.9,70.9 L243.8,67.7 M245.7,229.3 L249.7,234.5 M268.3,202.1 L267.4,208.6 M225.9,70.9 L245.9,88.5 M230.4,195.8 L232.4,203.2 M166.4,174.5 L175.6,172.8 M269.9,229.0 L266.8,233.7 M163.1,189.2 L169.7,195.0 M226.9,222.2 L232.0,228.6 M243.8,67.7 L264.7,65.6 M296.5,120.1 L317.2,115.0 M171.1,214.6 L170.5,222.7 M192.6,235.4 L205.8,235.0 M166.4,174.5 L163.1,189.2 M185.9,227.2 L192.6,235.4 M306.3,152.9 L300.2,162.8 M226.4,143.2 L213.0,152.1 M337.5,30.4 L334.5,220.4" stroke="#151515" stroke-width="0.7" fill="none"/>
<g stroke="#111" fill="none"><path d="M180,170.3 L316,139" stroke-width="1.6"/><path d="M180,175.2 L316,146" stroke-width="1.3"/><path d="M180,196.7 L316,166.8" stroke-width="1.1"/><path d="M180,210 L316,178.2" stroke-width="1.4"/></g>
<path d="M205.3,189.1 l-4.7,3.8 M213.4,157.1 l-3.0,-3.9 M210.9,213.7 l-5.5,-2.0 M188.5,182.9 l5.1,-5.2 M187.8,184.1 l0.3,2.9 M196.9,159.9 l-1.8,5.8 M207.5,158.1 l3.7,-2.3 M208.6,150.9 l4.5,-4.1 M197.5,196.3 l0.1,-4.0 M186.7,169.9 l-5.4,-3.4 M186.4,182.5 l-1.7,1.0 M191.5,152.4 l-2.0,3.1 M190.7,178.3 l3.1,-1.1 M212.2,214.3 l-2.3,2.8 M190.6,159.8 l-0.7,1.2 M213.8,160.2 l2.5,-0.3 M186.5,218.1 l2.3,-4.5 M212.8,157.2 l-4.9,-2.0 M213.9,152.3 l5.0,1.3 M184.3,189.8 l-0.5,0.8 M207.1,197.5 l6.0,-4.1 M209.6,178.8 l3.4,4.7 M215.7,168.6 l-0.6,5.3 M214.2,176.1 l5.3,-1.1 M194.7,203.0 l-0.3,-0.6 M195.1,180.3 l-4.3,-5.3 M207.6,189.5 l2.1,3.6 M189.8,166.4 l-2.7,-2.4 M207.9,176.2 l-2.1,1.6 M188.3,157.4 l2.4,3.1 M192.1,194.5 l-5.6,-1.1 M201.7,167.7 l-1.8,1.3 M202.1,160.8 l2.5,-5.0 M215.0,164.2 l-3.0,-3.6 M215.7,170.1 l1.3,5.9 M214.3,153.0 l0.3,1.2 M205.9,173.5 l-2.1,-5.9 M183.2,188.5 l-5.1,-3.6 M193.3,154.9 l-5.6,5.1 M196.8,164.3 l2.5,-5.9" stroke="#111" stroke-width="0.6" fill="none"/>
</g>
<g clip-path="url(#lf)">
<rect x="30" y="0" width="180" height="215" fill="#cfcfcf"/>
<polygon points="20,113 45,107.5 199.5,66.8 210,64 210,215 20,215" fill="#6e6e6e"/>
<path d="M82.0,0 L14.1,215 M85.2,0 L18.5,215 M88.4,0 L22.8,215 M91.6,0 L27.2,215 M94.8,0 L31.6,215 M98.0,0 L36.0,215 M101.2,0 L40.4,215 M104.4,0 L44.9,215 M107.7,0 L49.3,215 M110.9,0 L53.7,215 M114.1,0 L58.2,215 M117.4,0 L62.7,215 M120.7,0 L67.2,215 M124.0,0 L71.8,215 M127.4,0 L76.4,215 M130.8,0 L81.0,215 M134.2,0 L85.7,215 M137.7,0 L90.5,215 M141.2,0 L95.4,215 M144.9,0 L100.4,215 M148.6,0 L105.5,215 M152.4,0 L110.7,215 M156.3,0 L116.1,215 M160.3,0 L121.6,215 M164.5,0 L127.4,215 M168.8,0 L133.3,215 M173.4,0 L139.6,215 M178.1,0 L146.1,215 M183.2,0 L153.0,215 M188.5,0 L160.3,215 M194.1,0 L168.1,215 M200.2,0 L176.4,215 M206.8,0 L185.4,215" stroke="#121212" stroke-width="1.25" fill="none"/>
<path d="M82.0,0.0 L82.1,10.0 L75.7,20.0 L75.9,30.0 L69.4,40.0 L69.7,50.0 L63.0,60.0 L63.5,70.0 L56.7,80.0 L57.3,90.0 L50.4,100.0 L51.1,110.0 L44.1,120.0 L44.8,130.0 L37.8,140.0 L38.6,150.0 L31.4,160.0 L32.4,170.0 L25.1,180.0 L26.2,190.0 L18.8,200.0 L20.0,210.0 M85.2,0.0 L85.3,10.2 L78.9,20.4 L79.1,30.6 L72.5,40.8 L72.8,51.1 L66.2,61.3 L66.6,71.5 L59.8,81.7 L60.4,91.9 L53.5,102.1 L54.2,112.3 L47.2,122.5 L47.9,132.8 L40.8,143.0 L41.7,153.2 L34.5,163.4 L35.5,173.6 L28.1,183.8 L29.2,194.0 L21.8,204.2 L23.0,214.4 M88.4,0.0 L88.5,10.4 L82.0,20.8 L82.2,31.3 L75.7,41.7 L76.0,52.1 L69.3,62.5 L69.8,73.0 L63.0,83.4 L63.5,93.8 L56.6,104.2 L57.3,114.7 L50.3,125.1 L51.0,135.5 L43.9,145.9 L44.8,156.3 L37.6,166.8 L38.6,177.2 L31.2,187.6 L32.3,198.0 L24.8,208.5 M91.6,0.0 L91.7,10.6 L85.2,21.3 L85.4,31.9 L78.9,42.5 L79.2,53.2 L72.5,63.8 L72.9,74.4 L66.1,85.1 L66.7,95.7 L59.8,106.3 L60.4,117.0 L53.4,127.6 L54.2,138.3 L47.0,148.9 L47.9,159.5 L40.7,170.2 L41.7,180.8 L34.3,191.4 L35.4,202.1 L27.9,212.7 M94.8,0.0 L94.9,10.8 L88.4,21.7 L88.6,32.5 L82.1,43.4 L82.4,54.2 L75.7,65.1 L76.1,75.9 L69.3,86.8 L69.9,97.6 L62.9,108.5 L63.6,119.3 L56.6,130.2 L57.4,141.0 L50.2,151.9 L51.1,162.7 L43.8,173.5 L44.9,184.4 L37.4,195.2 L38.6,206.1 M98.0,0.0 L98.1,11.1 L91.6,22.1 L91.8,33.2 L85.3,44.2 L85.6,55.3 L78.9,66.3 L79.3,77.4 L72.5,88.5 L73.1,99.5 L66.1,110.6 L66.8,121.6 L59.8,132.7 L60.6,143.8 L53.4,154.8 L54.3,165.9 L47.0,176.9 L48.1,188.0 L40.6,199.0 L41.8,210.1 M101.2,0.0 L101.3,11.3 L94.8,22.5 L95.1,33.8 L88.5,45.1 L88.8,56.4 L82.1,67.6 L82.6,78.9 L75.7,90.2 L76.3,101.4 L69.4,112.7 L70.1,124.0 L63.0,135.2 L63.8,146.5 L56.6,157.8 L57.6,169.1 L50.2,180.3 L51.3,191.6 L43.9,202.9 L45.1,214.1 M104.4,0.0 L104.5,11.5 L98.1,23.0 L98.3,34.4 L91.7,45.9 L92.1,57.4 L85.3,68.9 L85.8,80.4 L79.0,91.9 L79.6,103.3 L72.6,114.8 L73.4,126.3 L66.3,137.8 L67.1,149.3 L59.9,160.8 L60.9,172.2 L53.5,183.7 L54.7,195.2 L47.2,206.7 M107.7,0.0 L107.8,11.7 L101.3,23.4 L101.6,35.1 L95.0,46.8 L95.3,58.5 L88.6,70.2 L89.1,81.9 L82.3,93.6 L82.9,105.3 L75.9,117.0 L76.7,128.7 L69.6,140.4 L70.5,152.0 L63.2,163.7 L64.2,175.4 L56.9,187.1 L58.0,198.8 L50.5,210.5 M110.9,0.0 L111.0,11.9 L104.6,23.8 L104.8,35.7 L98.2,47.6 L98.6,59.5 L91.9,71.5 L92.4,83.4 L85.6,95.3 L86.2,107.2 L79.2,119.1 L80.0,131.0 L72.9,142.9 L73.9,154.8 L66.6,166.7 L67.7,178.6 L60.2,190.6 L61.5,202.5 L53.9,214.4 M114.1,0.0 L114.3,12.1 L107.8,24.2 L108.1,36.4 L101.5,48.5 L102.0,60.6 L95.2,72.7 L95.8,84.9 L88.9,97.0 L89.6,109.1 L82.6,121.2 L83.5,133.4 L76.3,145.5 L77.3,157.6 L70.0,169.7 L71.1,181.9 L63.7,194.0 L64.9,206.1 M117.4,0.0 L117.6,12.3 L111.1,24.7 L111.5,37.0 L104.8,49.4 L105.3,61.7 L98.6,74.0 L99.2,86.4 L92.3,98.7 L93.1,111.1 L86.0,123.4 L86.9,135.7 L79.7,148.1 L80.8,160.4 L73.4,172.8 L74.6,185.1 L67.1,197.5 L68.5,209.8 M120.7,0.0 L121.0,12.6 L114.4,25.1 L114.9,37.7 L108.2,50.2 L108.8,62.8 L101.9,75.3 L102.6,87.9 L95.7,100.5 L96.5,113.0 L89.4,125.6 L90.4,138.1 L83.2,150.7 L84.3,163.3 L77.0,175.8 L78.2,188.4 L70.7,200.9 L72.1,213.5 M124.0,0.0 L124.3,12.8 L117.8,25.6 L118.3,38.3 L111.6,51.1 L112.2,63.9 L105.4,76.7 L106.1,89.4 L99.2,102.2 L100.1,115.0 L93.0,127.8 L94.0,140.6 L86.7,153.3 L88.0,166.1 L80.5,178.9 L81.9,191.7 L74.3,204.4 M127.4,0.0 L127.7,13.0 L121.2,26.0 L121.7,39.0 L115.0,52.0 L115.7,65.0 L108.9,78.0 L109.7,91.0 L102.7,104.0 L103.7,117.0 L96.5,130.0 L97.7,143.0 L90.4,156.0 L91.7,169.0 L84.2,182.0 L85.6,195.0 L78.0,208.0 M130.8,0.0 L131.2,13.2 L124.6,26.4 L125.3,39.7 L118.5,52.9 L119.3,66.1 L112.4,79.3 L113.3,92.6 L106.3,105.8 L107.4,119.0 L100.2,132.2 L101.4,145.5 L94.0,158.7 L95.5,171.9 L87.9,185.1 L89.5,198.4 L81.8,211.6 M134.2,0.0 L134.7,13.5 L128.1,26.9 L128.8,40.4 L122.1,53.8 L122.9,67.3 L116.0,80.7 L117.0,94.2 L109.9,107.6 L111.1,121.1 L103.9,134.5 L105.2,148.0 L97.8,161.4 L99.3,174.9 L91.8,188.3 L93.4,201.8 L85.7,215.2 M137.7,0.0 L138.3,13.7 L131.7,27.4 L132.5,41.0 L125.7,54.7 L126.7,68.4 L119.7,82.1 L120.8,95.8 L113.7,109.5 L115.0,123.1 L107.7,136.8 L109.2,150.5 L101.7,164.2 L103.3,177.9 L95.7,191.5 L97.5,205.2 M141.2,0.0 L142.0,13.9 L135.3,27.8 L136.2,41.7 L129.4,55.7 L130.5,69.6 L123.4,83.5 L124.7,97.4 L117.5,111.3 L119.0,125.2 L111.6,139.2 L113.2,153.1 L105.6,167.0 L107.4,180.9 L99.7,194.8 L101.7,208.7 M144.9,0.0 L145.7,14.2 L139.0,28.3 L140.1,42.5 L133.1,56.6 L134.4,70.8 L127.3,84.9 L128.7,99.1 L121.4,113.2 L123.0,127.4 L115.6,141.6 L117.4,155.7 L109.7,169.9 L111.7,184.0 L103.9,198.2 L106.0,212.3 M148.6,0.0 L149.6,14.4 L142.8,28.8 L144.0,43.2 L137.0,57.6 L138.4,72.0 L131.3,86.4 L132.8,100.8 L125.5,115.2 L127.3,129.6 L119.7,144.0 L121.7,158.4 L113.9,172.8 L116.1,187.2 L108.2,201.6 M152.4,0.0 L153.5,14.7 L146.7,29.3 L148.1,44.0 L141.0,58.6 L142.6,73.3 L135.3,87.9 L137.1,102.6 L129.7,117.2 L131.6,131.9 L124.0,146.5 L126.1,161.2 L118.3,175.8 L120.7,190.5 L112.6,205.1 M156.3,0.0 L157.6,14.9 L150.7,29.8 L152.3,44.7 L145.1,59.6 L146.9,74.6 L139.5,89.5 L141.5,104.4 L134.0,119.3 L136.2,134.2 L128.4,149.1 L130.8,164.0 L122.8,178.9 L125.4,193.8 L117.2,208.8 M160.3,0.0 L161.9,15.2 L154.9,30.4 L156.6,45.5 L149.4,60.7 L151.4,75.9 L143.9,91.1 L146.1,106.2 L138.5,121.4 L140.9,136.6 L133.0,151.8 L135.7,167.0 L127.5,182.1 L130.4,197.3 L122.1,212.5 M164.5,0.0 L166.3,15.5 L159.2,30.9 L161.2,46.4 L153.8,61.8 L156.1,77.3 L148.5,92.7 L151.0,108.2 L143.1,123.6 L145.9,139.1 L137.8,154.5 L140.8,170.0 L132.5,185.5 L135.7,200.9 M168.8,0.0 L170.9,15.7 L163.6,31.5 L166.0,47.2 L158.4,63.0 L161.0,78.7 L153.2,94.5 L156.0,110.2 L148.0,125.9 L151.1,141.7 L142.8,157.4 L146.1,173.2 L137.6,188.9 L141.2,204.6 M173.4,0.0 L175.7,16.0 L168.3,32.1 L171.0,48.1 L163.3,64.2 L166.2,80.2 L158.2,96.3 L161.4,112.3 L153.2,128.3 L156.6,144.4 L148.1,160.4 L151.8,176.5 L143.1,192.5 L147.1,208.5 M178.1,0.0 L180.9,16.4 L173.3,32.7 L176.3,49.1 L168.4,65.4 L171.7,81.8 L163.5,98.1 L167.1,114.5 L158.6,130.9 L162.5,147.2 L153.8,163.6 L157.9,179.9 L148.9,196.3 L153.3,212.6 M183.2,0.0 L186.3,16.7 L178.5,33.4 L181.9,50.1 L173.8,66.8 L177.5,83.4 L169.1,100.1 L173.2,116.8 L164.4,133.5 L168.8,150.2 L159.7,166.9 L164.4,183.6 L155.1,200.3 M188.5,0.0 L192.1,17.0 L184.0,34.1 L187.9,51.1 L179.5,68.2 L183.8,85.2 L175.1,102.2 L179.7,119.3 L170.6,136.3 L175.5,153.4 L166.1,170.4 L171.4,187.4 L161.7,204.5 M194.1,0.0 L198.3,17.4 L189.9,34.8 L194.4,52.2 L185.7,69.7 L190.6,87.1 L181.5,104.5 L186.7,121.9 L177.2,139.3 L182.9,156.7 L173.0,174.1 L179.0,191.6 L168.8,209.0 M200.2,0.0 L205.0,17.8 L196.3,35.6 L201.5,53.4 L192.3,71.3 L197.9,89.1 L188.4,106.9 L194.4,124.7 L184.4,142.5 L190.9,160.3 L180.5,178.2 L187.3,196.0 L176.5,213.8" stroke="#1a1a1a" stroke-width="0.6" fill="none"/>
<path d="M40.0,44.0 L48.0,45.9 L56.0,44.7 L64.0,42.7 L72.0,39.5 L80.0,39.5 L88.0,37.4 L96.0,37.2 L104.0,35.4 L112.0,34.9 L120.0,35.9 L128.0,32.8 L136.0,32.1 L144.0,34.1 L152.0,30.9 L160.0,29.9 L168.0,28.0 L176.0,29.9 L184.0,28.4 L192.0,26.9 L200.0,26.3 L208.0,23.2 M40.0,55.0 L48.0,55.4 L56.0,55.9 L64.0,54.4 L72.0,52.7 L80.0,51.3 L88.0,48.3 L96.0,50.8 L104.0,46.6 L112.0,45.9 L120.0,47.2 L128.0,46.7 L136.0,45.6 L144.0,43.3 L152.0,41.3 L160.0,39.7 L168.0,42.0 L176.0,41.6 L184.0,37.7 L192.0,39.2 L200.0,36.4 L208.0,35.1 M40.0,67.0 L48.0,64.1 L56.0,64.9 L64.0,62.9 L72.0,64.0 L80.0,62.2 L88.0,62.7 L96.0,61.9 L104.0,58.6 L112.0,57.5 L120.0,59.2 L128.0,56.5 L136.0,53.9 L144.0,52.7 L152.0,55.5 L160.0,52.9 L168.0,49.9 L176.0,50.7 L184.0,49.7 L192.0,48.5 L200.0,49.6 L208.0,48.6 M40.0,76.5 L48.0,75.6 L56.0,75.7 L64.0,76.5 L72.0,74.7 L80.0,74.1 L88.0,72.5 L96.0,70.1 L104.0,71.6 L112.0,67.4 L120.0,69.2 L128.0,66.2 L136.0,66.4 L144.0,67.4 L152.0,64.7 L160.0,61.8 L168.0,62.4 L176.0,62.3 L184.0,58.9 L192.0,58.8 L200.0,56.9 L208.0,58.0 M40.0,88.5 L48.0,88.1 L56.0,86.3 L64.0,86.7 L72.0,83.9 L80.0,85.8 L88.0,85.1 L96.0,82.3 L104.0,81.2 L112.0,81.8 L120.0,78.6 L128.0,79.7 L136.0,76.6 L144.0,77.4 L152.0,74.9 L160.0,75.0 L168.0,75.3 L176.0,70.9 L184.0,72.9 L192.0,70.9 L200.0,69.3 L208.0,68.2 M40.0,98.3 L48.0,98.1 L56.0,98.6 L64.0,95.5 L72.0,96.8 L80.0,97.0 L88.0,96.2 L96.0,94.8 L104.0,93.5 L112.0,90.1 L120.0,92.3 L128.0,88.3 L136.0,90.0 L144.0,89.0 L152.0,87.0 L160.0,85.7 L168.0,83.4 L176.0,83.8 L184.0,81.9 L192.0,80.3 L200.0,79.3 L208.0,81.0" stroke="#222" stroke-width="0.6" fill="none"/>
<path d="M30,100.0 L200,137.4 M30,102.4 L200,140.7 M30,104.7 L200,143.9 M30,107.1 L200,147.2 M30,109.5 L200,150.5 M30,111.8 L200,153.8 M30,114.2 L200,157.0 M30,116.5 L200,160.3 M30,118.9 L200,163.6 M30,121.3 L200,166.9 M30,123.6 L200,170.1 M30,126.0 L200,173.4" stroke="#000" stroke-width="0.7" fill="none"/>
<rect x="20" y="0" width="200" height="240" fill="url(#dk2)"/>
<path d="M30,104.0 L200,165.2 M30,107.2 L200,168.4 M30,110.4 L200,171.6 M30,113.6 L200,174.8 M30,116.8 L200,178.0 M30,120.0 L200,181.2 M30,123.2 L200,184.4 M30,126.4 L200,187.6 M30,129.6 L200,190.8" stroke="#9a9a9a" stroke-width="0.5" stroke-dasharray="1.2 1.8" fill="none" opacity="0.55"/>
<polygon points="20,136 210,191 210,240 20,240" fill="#050505"/>
<polygon points="120,150 190,162 190,212 120,212" fill="url(#lt)"/>
<path d="M125,150.0 L190,169.5 M125,154.0 L190,173.5 M125,158.0 L190,177.5 M125,162.0 L190,181.5 M125,166.0 L190,185.5 M125,170.0 L190,189.5 M125,174.0 L190,193.5 M125,178.0 L190,197.5 M125,182.0 L190,201.5 M125,186.0 L190,205.5 M125,190.0 L190,209.5 M125,194.0 L190,213.5 M125,198.0 L190,217.5 M125,202.0 L190,221.5" stroke="#000" stroke-width="0.8" fill="none" opacity="0.6"/>
</g>
<path d="M205,0 L184,205" stroke="#111" stroke-width="1.3"/>
<polygon points="1.2,141.5 40.3,131.9 34,152.5 1.2,160.2" fill="url(#barmesh)" stroke="#000" stroke-width="1.6"/>
<path d="M1.2,142.3 L38,133.4" stroke="#000" stroke-width="2.6"/>
<polygon points="32,133.4 40.3,131.9 36,152 33,152.5" fill="#050505"/>
<polygon points="123.8,213 182,203 182,217.3 128.5,232" fill="url(#barmesh)" stroke="#000" stroke-width="1.2"/>
<path d="M124.5,214.6 L182,204.6" stroke="#000" stroke-width="3.6"/><path d="M124,213 L128.5,232" stroke="#000" stroke-width="2"/>
<path d="M128.5,232 L316,184.2" stroke="#111" stroke-width="1.2"/>
</g>
<filter id="sh" x="-5%" y="-20%" width="110%" height="150%"><feGaussianBlur stdDeviation="1.2"/></filter>
<rect x="7.5" y="8" width="302.5" height="32" fill="#444" opacity="0.45" filter="url(#sh)"/>
<rect x="6" y="6" width="302" height="32.2" fill="#f4f4f4" fill-opacity="0.94"/>
<text x="25.0" y="27" font-family="Liberation Serif, serif" font-style="italic" font-size="15.5" fill="#1b1b2a">Evolution</text>
<text x="88.8" y="27" font-family="Liberation Serif, serif" font-style="italic" font-size="15.5" fill="#1b1b2a">of</text>
<text x="102.6" y="27" font-family="Liberation Serif, serif" font-style="italic" font-size="15.5" fill="#1b1b2a">CH</text>
<text x="133.6" y="27" font-family="Liberation Serif, serif" font-style="italic" font-size="15.5" fill="#1b1b2a">content</text>
<text x="182.0" y="27" font-family="Liberation Serif, serif" font-style="italic" font-size="15.5" fill="#1b1b2a">under</text>
<text x="221.3" y="27" font-family="Liberation Serif, serif" font-style="italic" font-size="15.5" fill="#1b1b2a">different</text>
<text x="281.3" y="27" font-family="Liberation Serif, serif" font-style="italic" font-size="15.5" fill="#1b1b2a">η</text>
<text x="125" y="29.2" font-family="Liberation Serif, serif" font-style="italic" font-size="9.5" fill="#1b1b2a">4</text>
<text font-family="Liberation Sans, sans-serif" font-size="16.8" fill="#141414" x="29.4" y="197.7" textLength="56" lengthAdjust="spacingAndGlyphs">Return</text><text font-family="Liberation Sans, sans-serif" font-size="16.8" fill="#141414" x="29.8" y="216.2" textLength="54" lengthAdjust="spacingAndGlyphs">Airway</text>
<text x="163.2" y="264.1" font-family="Liberation Serif, serif" font-size="16.9" fill="#111">Monitoring Position</text>
<path d="M105.1,214.4 L130,225" stroke="#b5601a" stroke-width="2.8" stroke-linecap="round" stroke-dasharray="6.8 8.2"/>
<path d="M91.3,208.1 Q96.5,209.3 101.2,207.7 Q97.6,210.8 97.5,216 Q95.6,210.8 91.3,208.1 Z" fill="#b0581a"/>
<path d="M133,223.6 L166,242.6" stroke="#cc0a10" stroke-width="2.3"/>
<path d="M172.3,246.5 L162.2,246 L165.6,242.4 L167,238.2 Z" fill="#cc0a10"/>
<circle cx="130.4" cy="223.2" r="5.7" fill="#cc0010"/>
<path d="M28.1,250 L26.6,235" stroke="#4a8ad0" stroke-width="1.4"/><path d="M26.3,231.5 L28.6,237 L24.4,237.3 Z" fill="#4a8ad0"/>
<path d="M28.5,250 L44.5,246.3" stroke="#e0306a" stroke-width="1.4"/><path d="M48,245.6 L43,243.6 L44,248.2 Z" fill="#e0306a"/>
<circle cx="28.2" cy="249.8" r="1.5" fill="#3cb040"/>
<text font-family="Liberation Sans, sans-serif" font-size="10.2" fill="#222"><tspan x="22.2" y="229">z</tspan><tspan x="51.6" y="247.5">x</tspan><tspan x="22.8" y="253">y</tspan></text>
<g stroke="#c8c8c8" stroke-width="0.9" stroke-dasharray="1 2">
<line x1="386.60" y1="4.5" x2="386.60" y2="257" />
<line x1="455.93" y1="4.5" x2="455.93" y2="257" />
<line x1="525.25" y1="4.5" x2="525.25" y2="257" />
<line x1="594.58" y1="4.5" x2="594.58" y2="257" />
<line x1="663.90" y1="4.5" x2="663.90" y2="257" />
<line x1="366.5" y1="242.30" x2="681" y2="242.30" />
<line x1="366.5" y1="198.98" x2="681" y2="198.98" />
<line x1="366.5" y1="155.66" x2="681" y2="155.66" />
<line x1="366.5" y1="112.34" x2="681" y2="112.34" />
<line x1="366.5" y1="69.02" x2="681" y2="69.02" />
<line x1="366.5" y1="25.70" x2="681" y2="25.70" />
</g>
<g stroke="#000" stroke-width="1.5">
<line x1="386.60" y1="257.8" x2="386.60" y2="253.60"/>
<line x1="421.26" y1="257.8" x2="421.26" y2="255.60"/>
<line x1="455.93" y1="257.8" x2="455.93" y2="253.60"/>
<line x1="490.59" y1="257.8" x2="490.59" y2="255.60"/>
<line x1="525.25" y1="257.8" x2="525.25" y2="253.60"/>
<line x1="559.91" y1="257.8" x2="559.91" y2="255.60"/>
<line x1="594.58" y1="257.8" x2="594.58" y2="253.60"/>
<line x1="629.24" y1="257.8" x2="629.24" y2="255.60"/>
<line x1="663.90" y1="257.8" x2="663.90" y2="253.60"/>
<line x1="365.6" y1="242.30" x2="370.10" y2="242.30"/>
<line x1="365.6" y1="220.64" x2="367.80" y2="220.64"/>
<line x1="365.6" y1="198.98" x2="370.10" y2="198.98"/>
<line x1="365.6" y1="177.32" x2="367.80" y2="177.32"/>
<line x1="365.6" y1="155.66" x2="370.10" y2="155.66"/>
<line x1="365.6" y1="134.00" x2="367.80" y2="134.00"/>
<line x1="365.6" y1="112.34" x2="370.10" y2="112.34"/>
<line x1="365.6" y1="90.68" x2="367.80" y2="90.68"/>
<line x1="365.6" y1="69.02" x2="370.10" y2="69.02"/>
<line x1="365.6" y1="47.36" x2="367.80" y2="47.36"/>
<line x1="365.6" y1="25.70" x2="370.10" y2="25.70"/>
</g>
<g font-family="Liberation Serif, serif" font-size="10" fill="#222">
<text x="386.60" y="271" text-anchor="middle">0.0</text>
<text x="455.93" y="271" text-anchor="middle">0.5</text>
<text x="525.25" y="271" text-anchor="middle">1.0</text>
<text x="594.58" y="271" text-anchor="middle">1.5</text>
<text x="663.90" y="271" text-anchor="middle">2.0</text>
<text x="360.6" y="245.70" text-anchor="end">0.0</text>
<text x="360.6" y="202.38" text-anchor="end">0.2</text>
<text x="360.6" y="159.06" text-anchor="end">0.4</text>
<text x="360.6" y="115.74" text-anchor="end">0.6</text>
<text x="360.6" y="72.42" text-anchor="end">0.8</text>
<text x="360.6" y="29.10" text-anchor="end">1.0</text>
</g>
<text x="524.2" y="286" text-anchor="middle" font-family="Liberation Serif, serif" font-weight="bold" font-size="11" fill="#111">Time (d)</text>
<text transform="translate(339.5,134.6) rotate(-90)" text-anchor="middle" font-family="Liberation Serif, serif" font-weight="bold" font-size="11.5" fill="#111">Methane concentration (mol/m<tspan dy="-3.7" font-size="7.8">3</tspan><tspan dy="3.7">)</tspan></text>
<g fill="none" stroke-width="1.7" stroke-linejoin="round">
<path d="M386.60,242.30 L387.29,237.96 L387.99,233.63 L388.68,229.30 L389.37,224.98 L390.07,220.69 L390.76,216.41 L391.45,212.16 L392.15,207.94 L392.84,203.75 L393.53,199.60 L394.23,195.49 L394.92,191.42 L395.61,187.41 L396.31,183.45 L397.00,179.55 L397.69,175.71 L398.39,171.94 L399.08,168.24 L399.77,164.62 L400.47,161.08 L401.16,157.61 L401.85,154.23 L402.54,150.93 L403.24,147.71 L403.93,144.57 L404.62,141.49 L405.32,138.50 L406.01,135.57 L406.70,132.72 L407.40,129.93 L408.09,127.21 L408.78,124.55 L409.48,121.96 L410.17,119.42 L410.86,116.95 L411.56,114.53 L412.25,112.17 L412.94,109.87 L413.64,107.61 L414.33,105.41 L415.02,103.25 L415.72,101.15 L416.41,99.09 L417.10,97.08 L417.80,95.12 L418.49,93.20 L419.18,91.33 L419.88,89.50 L420.57,87.72 L421.26,85.99 L421.96,84.30 L422.65,82.65 L423.34,81.04 L424.04,79.48 L424.73,77.96 L425.42,76.48 L426.12,75.04 L426.81,73.64 L427.50,72.29 L428.20,70.97 L428.89,69.69 L429.58,68.45 L430.27,67.25 L430.97,66.08 L431.66,64.95 L432.35,63.85 L433.05,62.79 L433.74,61.76 L434.43,60.77 L435.13,59.80 L435.82,58.87 L436.51,57.96 L437.21,57.09 L437.90,56.24 L438.59,55.42 L439.29,54.62 L439.98,53.85 L440.67,53.11 L441.37,52.39 L442.06,51.69 L442.75,51.02 L443.45,50.36 L444.14,49.73 L444.83,49.11 L445.53,48.52 L446.22,47.94 L446.91,47.38 L447.61,46.84 L448.30,46.31 L448.99,45.79 L449.69,45.29 L450.38,44.81 L451.07,44.33 L451.77,43.87 L452.46,43.42 L453.15,42.98 L453.85,42.55 L454.54,42.12 L455.23,41.71 L455.93,41.30 L456.62,40.89 L457.31,40.49 L458.00,40.10 L458.70,39.72 L459.39,39.34 L460.08,38.97 L460.78,38.61 L461.47,38.26 L462.16,37.92 L462.86,37.58 L463.55,37.26 L464.24,36.94 L464.94,36.63 L465.63,36.34 L466.32,36.05 L467.02,35.78 L467.71,35.51 L468.40,35.26 L469.10,35.02 L469.79,34.80 L470.48,34.58 L471.18,34.38 L471.87,34.19 L472.56,34.01 L473.26,33.84 L473.95,33.68 L474.64,33.52 L475.34,33.38 L476.03,33.24 L476.72,33.11 L477.42,32.98 L478.11,32.86 L478.80,32.74 L479.50,32.63 L480.19,32.52 L480.88,32.41 L481.58,32.30 L482.27,32.19 L482.96,32.09 L483.66,31.98 L484.35,31.87 L485.04,31.76 L485.73,31.65 L486.43,31.54 L487.12,31.43 L487.81,31.32 L488.51,31.21 L489.20,31.09 L489.89,30.98 L490.59,30.87 L491.28,30.76 L491.97,30.65 L492.67,30.54 L493.36,30.43 L494.05,30.32 L494.75,30.22 L495.44,30.12 L496.13,30.01 L496.83,29.91 L497.52,29.82 L498.21,29.72 L498.91,29.63 L499.60,29.54 L500.29,29.45 L500.99,29.36 L501.68,29.28 L502.37,29.20 L503.07,29.12 L503.76,29.04 L504.45,28.96 L505.15,28.89 L505.84,28.82 L506.53,28.75 L507.23,28.68 L507.92,28.61 L508.61,28.54 L509.31,28.48 L510.00,28.42 L510.69,28.36 L511.39,28.30 L512.08,28.24 L512.77,28.19 L513.46,28.13 L514.16,28.08 L514.85,28.03 L515.54,27.97 L516.24,27.93 L516.93,27.88 L517.62,27.83 L518.32,27.79 L519.01,27.75 L519.70,27.70 L520.40,27.66 L521.09,27.63 L521.78,27.59 L522.48,27.56 L523.17,27.52 L523.86,27.49 L524.56,27.46 L525.25,27.43 L525.94,27.41 L526.64,27.38 L527.33,27.36 L528.02,27.34 L528.72,27.31 L529.41,27.29 L530.10,27.27 L530.80,27.25 L531.49,27.23 L532.18,27.22 L532.88,27.20 L533.57,27.18 L534.26,27.16 L534.96,27.14 L535.65,27.12 L536.34,27.10 L537.04,27.07 L537.73,27.05 L538.42,27.03 L539.12,27.00 L539.81,26.97 L540.50,26.94 L541.19,26.91 L541.89,26.88 L542.58,26.85 L543.27,26.81 L543.97,26.78 L544.66,26.74 L545.35,26.71 L546.05,26.67 L546.74,26.64 L547.43,26.60 L548.13,26.57 L548.82,26.53 L549.51,26.50 L550.21,26.47 L550.90,26.44 L551.59,26.41 L552.29,26.38 L552.98,26.35 L553.67,26.32 L554.37,26.30 L555.06,26.28 L555.75,26.26 L556.45,26.24 L557.14,26.22 L557.83,26.21 L558.53,26.20 L559.22,26.18 L559.91,26.17 L560.61,26.16 L561.30,26.15 L561.99,26.15 L562.69,26.14 L563.38,26.14 L564.07,26.13 L564.77,26.13 L565.46,26.13 L566.15,26.13 L566.85,26.13 L567.54,26.14 L568.23,26.14 L568.92,26.14 L569.62,26.15 L570.31,26.15 L571.00,26.15 L571.70,26.16 L572.39,26.16 L573.08,26.17 L573.78,26.17 L574.47,26.17 L575.16,26.17 L575.86,26.17 L576.55,26.17 L577.24,26.17 L577.94,26.17 L578.63,26.16 L579.32,26.15 L580.02,26.15 L580.71,26.13 L581.40,26.12 L582.10,26.10 L582.79,26.08 L583.48,26.07 L584.18,26.04 L584.87,26.02 L585.56,26.00 L586.26,25.98 L586.95,25.96 L587.64,25.95 L588.34,25.93 L589.03,25.91 L589.72,25.90 L590.42,25.89 L591.11,25.89 L591.80,25.88 L592.50,25.88 L593.19,25.89 L593.88,25.90 L594.58,25.92 L595.27,25.94 L595.96,25.97 L596.65,26.00 L597.35,26.05 L598.04,26.10 L598.73,26.17 L599.43,26.25 L600.12,26.34 L600.81,26.45 L601.51,26.58 L602.20,26.72 L602.89,26.88 L603.59,27.05 L604.28,27.25 L604.97,27.48 L605.67,27.72 L606.36,27.99 L607.05,28.28 L607.75,28.60 L608.44,28.95 L609.13,29.32 L609.83,29.71 L610.52,30.11 L611.21,30.49 L611.91,30.85 L612.60,31.18 L613.29,31.45 L613.99,31.67 L614.68,31.82 L615.37,31.87 L616.07,31.84 L616.76,31.71 L617.45,31.52 L618.15,31.26 L618.84,30.96 L619.53,30.62 L620.23,30.26 L620.92,29.88 L621.61,29.52 L622.31,29.17 L623.00,28.84 L623.69,28.54 L624.38,28.27 L625.08,28.02 L625.77,27.80 L626.46,27.60 L627.16,27.42 L627.85,27.26 L628.54,27.12 L629.24,26.99 L629.93,26.88 L630.62,26.78 L631.32,26.70 L632.01,26.63 L632.70,26.56 L633.40,26.51 L634.09,26.46 L634.78,26.42 L635.48,26.38 L636.17,26.35 L636.86,26.32 L637.56,26.29 L638.25,26.26 L638.94,26.23 L639.64,26.21 L640.33,26.18 L641.02,26.15 L641.72,26.13 L642.41,26.10 L643.10,26.07 L643.80,26.04 L644.49,26.01 L645.18,25.98 L645.88,25.95 L646.57,25.91 L647.26,25.88 L647.96,25.84 L648.65,25.80 L649.34,25.75 L650.04,25.70 L650.73,25.65 L651.42,25.59 L652.11,25.53 L652.81,25.47 L653.50,25.40 L654.19,25.33 L654.89,25.26 L655.58,25.19 L656.27,25.11 L656.97,25.03 L657.66,24.95 L658.35,24.87 L659.05,24.79 L659.74,24.71 L660.43,24.62 L661.13,24.53 L661.82,24.45 L662.51,24.36 L663.21,24.27 L663.90,24.18" stroke="#000" stroke-width="2"/>
<path d="M386.60,242.30 L387.29,238.03 L387.99,233.76 L388.68,229.50 L389.37,225.25 L390.07,221.02 L390.76,216.81 L391.45,212.62 L392.15,208.46 L392.84,204.33 L393.53,200.24 L394.23,196.18 L394.92,192.17 L395.61,188.21 L396.31,184.30 L397.00,180.45 L397.69,176.66 L398.39,172.93 L399.08,169.26 L399.77,165.67 L400.47,162.16 L401.16,158.72 L401.85,155.36 L402.54,152.09 L403.24,148.89 L403.93,145.76 L404.62,142.72 L405.32,139.75 L406.01,136.85 L406.70,134.03 L407.40,131.28 L408.09,128.61 L408.78,126.01 L409.48,123.49 L410.17,121.03 L410.86,118.65 L411.56,116.34 L412.25,114.10 L412.94,111.93 L413.64,109.83 L414.33,107.79 L415.02,105.82 L415.72,103.92 L416.41,102.09 L417.10,100.31 L417.80,98.59 L418.49,96.93 L419.18,95.32 L419.88,93.77 L420.57,92.26 L421.26,90.81 L421.96,89.39 L422.65,88.02 L423.34,86.70 L424.04,85.40 L424.73,84.15 L425.42,82.93 L426.12,81.74 L426.81,80.58 L427.50,79.44 L428.20,78.33 L428.89,77.25 L429.58,76.18 L430.27,75.14 L430.97,74.13 L431.66,73.13 L432.35,72.17 L433.05,71.22 L433.74,70.30 L434.43,69.41 L435.13,68.55 L435.82,67.71 L436.51,66.90 L437.21,66.11 L437.90,65.36 L438.59,64.63 L439.29,63.93 L439.98,63.26 L440.67,62.62 L441.37,62.02 L442.06,61.44 L442.75,60.89 L443.45,60.38 L444.14,59.89 L444.83,59.43 L445.53,58.99 L446.22,58.58 L446.91,58.19 L447.61,57.82 L448.30,57.47 L448.99,57.14 L449.69,56.83 L450.38,56.53 L451.07,56.24 L451.77,55.97 L452.46,55.71 L453.15,55.45 L453.85,55.21 L454.54,54.97 L455.23,54.74 L455.93,54.51 L456.62,54.28 L457.31,54.05 L458.00,53.83 L458.70,53.61 L459.39,53.39 L460.08,53.17 L460.78,52.96 L461.47,52.75 L462.16,52.54 L462.86,52.33 L463.55,52.12 L464.24,51.92 L464.94,51.72 L465.63,51.52 L466.32,51.33 L467.02,51.14 L467.71,50.95 L468.40,50.76 L469.10,50.57 L469.79,50.39 L470.48,50.21 L471.18,50.04 L471.87,49.87 L472.56,49.70 L473.26,49.53 L473.95,49.37 L474.64,49.21 L475.34,49.06 L476.03,48.90 L476.72,48.76 L477.42,48.62 L478.11,48.48 L478.80,48.35 L479.50,48.22 L480.19,48.10 L480.88,47.98 L481.58,47.87 L482.27,47.77 L482.96,47.67 L483.66,47.58 L484.35,47.49 L485.04,47.41 L485.73,47.33 L486.43,47.26 L487.12,47.20 L487.81,47.13 L488.51,47.08 L489.20,47.02 L489.89,46.97 L490.59,46.92 L491.28,46.87 L491.97,46.83 L492.67,46.79 L493.36,46.74 L494.05,46.70 L494.75,46.66 L495.44,46.62 L496.13,46.58 L496.83,46.54 L497.52,46.49 L498.21,46.45 L498.91,46.40 L499.60,46.35 L500.29,46.31 L500.99,46.26 L501.68,46.21 L502.37,46.16 L503.07,46.11 L503.76,46.06 L504.45,46.01 L505.15,45.96 L505.84,45.92 L506.53,45.87 L507.23,45.83 L507.92,45.79 L508.61,45.75 L509.31,45.72 L510.00,45.68 L510.69,45.65 L511.39,45.63 L512.08,45.60 L512.77,45.58 L513.46,45.57 L514.16,45.55 L514.85,45.54 L515.54,45.53 L516.24,45.53 L516.93,45.52 L517.62,45.52 L518.32,45.51 L519.01,45.51 L519.70,45.51 L520.40,45.51 L521.09,45.51 L521.78,45.51 L522.48,45.51 L523.17,45.51 L523.86,45.51 L524.56,45.50 L525.25,45.50 L525.94,45.49 L526.64,45.48 L527.33,45.47 L528.02,45.46 L528.72,45.45 L529.41,45.44 L530.10,45.42 L530.80,45.41 L531.49,45.39 L532.18,45.37 L532.88,45.36 L533.57,45.34 L534.26,45.32 L534.96,45.30 L535.65,45.28 L536.34,45.26 L537.04,45.25 L537.73,45.23 L538.42,45.21 L539.12,45.19 L539.81,45.18 L540.50,45.16 L541.19,45.15 L541.89,45.13 L542.58,45.12 L543.27,45.10 L543.97,45.09 L544.66,45.08 L545.35,45.07 L546.05,45.06 L546.74,45.04 L547.43,45.03 L548.13,45.03 L548.82,45.02 L549.51,45.01 L550.21,45.00 L550.90,44.99 L551.59,44.99 L552.29,44.98 L552.98,44.98 L553.67,44.97 L554.37,44.97 L555.06,44.97 L555.75,44.96 L556.45,44.96 L557.14,44.96 L557.83,44.96 L558.53,44.96 L559.22,44.96 L559.91,44.96 L560.61,44.96 L561.30,44.96 L561.99,44.96 L562.69,44.96 L563.38,44.96 L564.07,44.97 L564.77,44.97 L565.46,44.97 L566.15,44.97 L566.85,44.98 L567.54,44.98 L568.23,44.98 L568.92,44.99 L569.62,44.99 L570.31,44.99 L571.00,45.00 L571.70,45.00 L572.39,45.00 L573.08,45.00 L573.78,45.00 L574.47,45.01 L575.16,45.01 L575.86,45.00 L576.55,45.00 L577.24,45.00 L577.94,45.00 L578.63,45.00 L579.32,44.99 L580.02,44.98 L580.71,44.98 L581.40,44.97 L582.10,44.96 L582.79,44.95 L583.48,44.94 L584.18,44.93 L584.87,44.91 L585.56,44.90 L586.26,44.89 L586.95,44.88 L587.64,44.86 L588.34,44.85 L589.03,44.84 L589.72,44.82 L590.42,44.81 L591.11,44.80 L591.80,44.79 L592.50,44.78 L593.19,44.77 L593.88,44.77 L594.58,44.76 L595.27,44.76 L595.96,44.75 L596.65,44.75 L597.35,44.75 L598.04,44.75 L598.73,44.75 L599.43,44.75 L600.12,44.76 L600.81,44.76 L601.51,44.76 L602.20,44.76 L602.89,44.77 L603.59,44.77 L604.28,44.77 L604.97,44.77 L605.67,44.77 L606.36,44.77 L607.05,44.77 L607.75,44.77 L608.44,44.76 L609.13,44.76 L609.83,44.75 L610.52,44.74 L611.21,44.73 L611.91,44.72 L612.60,44.71 L613.29,44.70 L613.99,44.69 L614.68,44.67 L615.37,44.66 L616.07,44.65 L616.76,44.63 L617.45,44.62 L618.15,44.61 L618.84,44.60 L619.53,44.58 L620.23,44.57 L620.92,44.56 L621.61,44.55 L622.31,44.54 L623.00,44.54 L623.69,44.53 L624.38,44.53 L625.08,44.52 L625.77,44.52 L626.46,44.52 L627.16,44.52 L627.85,44.52 L628.54,44.52 L629.24,44.52 L629.93,44.52 L630.62,44.52 L631.32,44.52 L632.01,44.52 L632.70,44.53 L633.40,44.53 L634.09,44.53 L634.78,44.54 L635.48,44.54 L636.17,44.54 L636.86,44.55 L637.56,44.55 L638.25,44.55 L638.94,44.56 L639.64,44.56 L640.33,44.56 L641.02,44.56 L641.72,44.56 L642.41,44.57 L643.10,44.57 L643.80,44.57 L644.49,44.57 L645.18,44.57 L645.88,44.56 L646.57,44.56 L647.26,44.56 L647.96,44.56 L648.65,44.55 L649.34,44.55 L650.04,44.54 L650.73,44.54 L651.42,44.53 L652.11,44.52 L652.81,44.52 L653.50,44.51 L654.19,44.50 L654.89,44.49 L655.58,44.48 L656.27,44.47 L656.97,44.46 L657.66,44.44 L658.35,44.43 L659.05,44.42 L659.74,44.41 L660.43,44.39 L661.13,44.38 L661.82,44.37 L662.51,44.35 L663.21,44.34 L663.90,44.33" stroke="#f00" stroke-dasharray="10.5 8.75" stroke-dashoffset="5.80"/>
<path d="M386.60,242.30 L387.29,238.08 L387.99,233.87 L388.68,229.66 L389.37,225.46 L390.07,221.28 L390.76,217.12 L391.45,212.99 L392.15,208.88 L392.84,204.81 L393.53,200.77 L394.23,196.77 L394.92,192.81 L395.61,188.91 L396.31,185.05 L397.00,181.25 L397.69,177.51 L398.39,173.84 L399.08,170.23 L399.77,166.70 L400.47,163.24 L401.16,159.86 L401.85,156.56 L402.54,153.34 L403.24,150.20 L403.93,147.13 L404.62,144.14 L405.32,141.23 L406.01,138.38 L406.70,135.61 L407.40,132.92 L408.09,130.29 L408.78,127.74 L409.48,125.25 L410.17,122.84 L410.86,120.49 L411.56,118.21 L412.25,116.00 L412.94,113.85 L413.64,111.76 L414.33,109.74 L415.02,107.78 L415.72,105.89 L416.41,104.05 L417.10,102.27 L417.80,100.56 L418.49,98.90 L419.18,97.29 L419.88,95.75 L420.57,94.25 L421.26,92.81 L421.96,91.43 L422.65,90.09 L423.34,88.81 L424.04,87.57 L424.73,86.39 L425.42,85.25 L426.12,84.16 L426.81,83.11 L427.50,82.11 L428.20,81.15 L428.89,80.23 L429.58,79.36 L430.27,78.52 L430.97,77.73 L431.66,76.96 L432.35,76.24 L433.05,75.54 L433.74,74.88 L434.43,74.25 L435.13,73.64 L435.82,73.06 L436.51,72.51 L437.21,71.98 L437.90,71.48 L438.59,70.99 L439.29,70.52 L439.98,70.07 L440.67,69.63 L441.37,69.21 L442.06,68.80 L442.75,68.41 L443.45,68.02 L444.14,67.64 L444.83,67.28 L445.53,66.92 L446.22,66.57 L446.91,66.24 L447.61,65.91 L448.30,65.60 L448.99,65.29 L449.69,64.99 L450.38,64.71 L451.07,64.43 L451.77,64.16 L452.46,63.90 L453.15,63.65 L453.85,63.41 L454.54,63.18 L455.23,62.95 L455.93,62.74 L456.62,62.53 L457.31,62.33 L458.00,62.14 L458.70,61.96 L459.39,61.78 L460.08,61.61 L460.78,61.45 L461.47,61.30 L462.16,61.15 L462.86,61.01 L463.55,60.88 L464.24,60.75 L464.94,60.63 L465.63,60.51 L466.32,60.40 L467.02,60.29 L467.71,60.19 L468.40,60.10 L469.10,60.01 L469.79,59.92 L470.48,59.84 L471.18,59.76 L471.87,59.69 L472.56,59.62 L473.26,59.55 L473.95,59.49 L474.64,59.42 L475.34,59.36 L476.03,59.30 L476.72,59.24 L477.42,59.18 L478.11,59.13 L478.80,59.07 L479.50,59.01 L480.19,58.95 L480.88,58.89 L481.58,58.82 L482.27,58.76 L482.96,58.69 L483.66,58.62 L484.35,58.55 L485.04,58.47 L485.73,58.40 L486.43,58.32 L487.12,58.24 L487.81,58.15 L488.51,58.07 L489.20,57.99 L489.89,57.90 L490.59,57.82 L491.28,57.74 L491.97,57.66 L492.67,57.58 L493.36,57.50 L494.05,57.43 L494.75,57.36 L495.44,57.29 L496.13,57.22 L496.83,57.16 L497.52,57.11 L498.21,57.06 L498.91,57.01 L499.60,56.97 L500.29,56.93 L500.99,56.90 L501.68,56.87 L502.37,56.84 L503.07,56.82 L503.76,56.80 L504.45,56.78 L505.15,56.76 L505.84,56.75 L506.53,56.74 L507.23,56.72 L507.92,56.71 L508.61,56.71 L509.31,56.70 L510.00,56.69 L510.69,56.68 L511.39,56.67 L512.08,56.67 L512.77,56.66 L513.46,56.65 L514.16,56.64 L514.85,56.63 L515.54,56.62 L516.24,56.61 L516.93,56.60 L517.62,56.58 L518.32,56.57 L519.01,56.56 L519.70,56.55 L520.40,56.54 L521.09,56.53 L521.78,56.51 L522.48,56.50 L523.17,56.49 L523.86,56.48 L524.56,56.47 L525.25,56.46 L525.94,56.45 L526.64,56.44 L527.33,56.42 L528.02,56.41 L528.72,56.40 L529.41,56.39 L530.10,56.38 L530.80,56.37 L531.49,56.36 L532.18,56.35 L532.88,56.34 L533.57,56.33 L534.26,56.32 L534.96,56.31 L535.65,56.30 L536.34,56.29 L537.04,56.28 L537.73,56.26 L538.42,56.25 L539.12,56.24 L539.81,56.23 L540.50,56.22 L541.19,56.20 L541.89,56.19 L542.58,56.18 L543.27,56.16 L543.97,56.15 L544.66,56.14 L545.35,56.13 L546.05,56.12 L546.74,56.10 L547.43,56.09 L548.13,56.08 L548.82,56.07 L549.51,56.06 L550.21,56.05 L550.90,56.04 L551.59,56.04 L552.29,56.03 L552.98,56.02 L553.67,56.02 L554.37,56.02 L555.06,56.01 L555.75,56.01 L556.45,56.01 L557.14,56.01 L557.83,56.01 L558.53,56.01 L559.22,56.01 L559.91,56.01 L560.61,56.01 L561.30,56.01 L561.99,56.01 L562.69,56.01 L563.38,56.02 L564.07,56.02 L564.77,56.02 L565.46,56.02 L566.15,56.02 L566.85,56.02 L567.54,56.02 L568.23,56.03 L568.92,56.03 L569.62,56.03 L570.31,56.03 L571.00,56.03 L571.70,56.02 L572.39,56.02 L573.08,56.02 L573.78,56.02 L574.47,56.02 L575.16,56.02 L575.86,56.02 L576.55,56.02 L577.24,56.02 L577.94,56.02 L578.63,56.02 L579.32,56.02 L580.02,56.02 L580.71,56.02 L581.40,56.03 L582.10,56.03 L582.79,56.03 L583.48,56.03 L584.18,56.03 L584.87,56.04 L585.56,56.04 L586.26,56.04 L586.95,56.04 L587.64,56.04 L588.34,56.05 L589.03,56.05 L589.72,56.05 L590.42,56.05 L591.11,56.04 L591.80,56.04 L592.50,56.04 L593.19,56.04 L593.88,56.03 L594.58,56.02 L595.27,56.02 L595.96,56.01 L596.65,56.00 L597.35,55.99 L598.04,55.98 L598.73,55.97 L599.43,55.95 L600.12,55.94 L600.81,55.93 L601.51,55.92 L602.20,55.90 L602.89,55.89 L603.59,55.88 L604.28,55.87 L604.97,55.85 L605.67,55.84 L606.36,55.83 L607.05,55.82 L607.75,55.81 L608.44,55.81 L609.13,55.80 L609.83,55.80 L610.52,55.79 L611.21,55.79 L611.91,55.79 L612.60,55.78 L613.29,55.78 L613.99,55.78 L614.68,55.78 L615.37,55.79 L616.07,55.79 L616.76,55.79 L617.45,55.79 L618.15,55.79 L618.84,55.80 L619.53,55.80 L620.23,55.80 L620.92,55.80 L621.61,55.81 L622.31,55.81 L623.00,55.81 L623.69,55.81 L624.38,55.81 L625.08,55.81 L625.77,55.81 L626.46,55.81 L627.16,55.81 L627.85,55.81 L628.54,55.81 L629.24,55.81 L629.93,55.81 L630.62,55.81 L631.32,55.81 L632.01,55.81 L632.70,55.81 L633.40,55.81 L634.09,55.81 L634.78,55.81 L635.48,55.81 L636.17,55.81 L636.86,55.81 L637.56,55.81 L638.25,55.81 L638.94,55.81 L639.64,55.81 L640.33,55.81 L641.02,55.81 L641.72,55.81 L642.41,55.81 L643.10,55.81 L643.80,55.81 L644.49,55.81 L645.18,55.81 L645.88,55.81 L646.57,55.81 L647.26,55.81 L647.96,55.81 L648.65,55.81 L649.34,55.81 L650.04,55.81 L650.73,55.81 L651.42,55.81 L652.11,55.81 L652.81,55.81 L653.50,55.81 L654.19,55.81 L654.89,55.81 L655.58,55.81 L656.27,55.81 L656.97,55.81 L657.66,55.81 L658.35,55.81 L659.05,55.81 L659.74,55.81 L660.43,55.81 L661.13,55.81 L661.82,55.81 L662.51,55.81 L663.21,55.81 L663.90,55.81" stroke="#0f0" stroke-dasharray="10 6 2 6" stroke-dashoffset="0.42"/>
<path d="M386.60,242.30 L387.29,238.21 L387.99,234.13 L388.68,230.05 L389.37,225.99 L390.07,221.94 L390.76,217.90 L391.45,213.90 L392.15,209.92 L392.84,205.97 L393.53,202.05 L394.23,198.17 L394.92,194.34 L395.61,190.55 L396.31,186.81 L397.00,183.12 L397.69,179.49 L398.39,175.92 L399.08,172.42 L399.77,168.99 L400.47,165.62 L401.16,162.34 L401.85,159.13 L402.54,155.99 L403.24,152.94 L403.93,149.95 L404.62,147.04 L405.32,144.21 L406.01,141.44 L406.70,138.75 L407.40,136.14 L408.09,133.59 L408.78,131.12 L409.48,128.72 L410.17,126.38 L410.86,124.12 L411.56,121.93 L412.25,119.81 L412.94,117.76 L413.64,115.77 L414.33,113.86 L415.02,112.01 L415.72,110.22 L416.41,108.51 L417.10,106.85 L417.80,105.25 L418.49,103.71 L419.18,102.23 L419.88,100.80 L420.57,99.43 L421.26,98.10 L421.96,96.82 L422.65,95.59 L423.34,94.41 L424.04,93.27 L424.73,92.17 L425.42,91.11 L426.12,90.08 L426.81,89.09 L427.50,88.14 L428.20,87.21 L428.89,86.32 L429.58,85.46 L430.27,84.62 L430.97,83.81 L431.66,83.04 L432.35,82.28 L433.05,81.56 L433.74,80.86 L434.43,80.19 L435.13,79.55 L435.82,78.93 L436.51,78.33 L437.21,77.77 L437.90,77.22 L438.59,76.70 L439.29,76.20 L439.98,75.73 L440.67,75.27 L441.37,74.84 L442.06,74.44 L442.75,74.05 L443.45,73.68 L444.14,73.33 L444.83,73.01 L445.53,72.70 L446.22,72.40 L446.91,72.13 L447.61,71.87 L448.30,71.62 L448.99,71.39 L449.69,71.17 L450.38,70.97 L451.07,70.77 L451.77,70.59 L452.46,70.41 L453.15,70.25 L453.85,70.09 L454.54,69.95 L455.23,69.81 L455.93,69.67 L456.62,69.54 L457.31,69.41 L458.00,69.29 L458.70,69.18 L459.39,69.07 L460.08,68.96 L460.78,68.85 L461.47,68.75 L462.16,68.65 L462.86,68.56 L463.55,68.47 L464.24,68.38 L464.94,68.29 L465.63,68.21 L466.32,68.12 L467.02,68.04 L467.71,67.96 L468.40,67.88 L469.10,67.80 L469.79,67.72 L470.48,67.64 L471.18,67.56 L471.87,67.49 L472.56,67.41 L473.26,67.33 L473.95,67.26 L474.64,67.18 L475.34,67.11 L476.03,67.03 L476.72,66.96 L477.42,66.89 L478.11,66.82 L478.80,66.75 L479.50,66.68 L480.19,66.62 L480.88,66.55 L481.58,66.49 L482.27,66.43 L482.96,66.37 L483.66,66.31 L484.35,66.26 L485.04,66.20 L485.73,66.15 L486.43,66.10 L487.12,66.05 L487.81,66.01 L488.51,65.96 L489.20,65.92 L489.89,65.88 L490.59,65.84 L491.28,65.81 L491.97,65.77 L492.67,65.74 L493.36,65.71 L494.05,65.68 L494.75,65.65 L495.44,65.62 L496.13,65.60 L496.83,65.58 L497.52,65.55 L498.21,65.54 L498.91,65.52 L499.60,65.50 L500.29,65.49 L500.99,65.47 L501.68,65.46 L502.37,65.45 L503.07,65.44 L503.76,65.43 L504.45,65.42 L505.15,65.41 L505.84,65.40 L506.53,65.40 L507.23,65.39 L507.92,65.38 L508.61,65.37 L509.31,65.36 L510.00,65.36 L510.69,65.35 L511.39,65.34 L512.08,65.33 L512.77,65.32 L513.46,65.31 L514.16,65.29 L514.85,65.28 L515.54,65.27 L516.24,65.26 L516.93,65.25 L517.62,65.23 L518.32,65.22 L519.01,65.21 L519.70,65.20 L520.40,65.18 L521.09,65.17 L521.78,65.16 L522.48,65.15 L523.17,65.14 L523.86,65.14 L524.56,65.13 L525.25,65.12 L525.94,65.12 L526.64,65.11 L527.33,65.11 L528.02,65.10 L528.72,65.10 L529.41,65.10 L530.10,65.10 L530.80,65.10 L531.49,65.10 L532.18,65.10 L532.88,65.10 L533.57,65.10 L534.26,65.11 L534.96,65.11 L535.65,65.11 L536.34,65.11 L537.04,65.12 L537.73,65.12 L538.42,65.12 L539.12,65.12 L539.81,65.12 L540.50,65.12 L541.19,65.12 L541.89,65.13 L542.58,65.13 L543.27,65.13 L543.97,65.13 L544.66,65.13 L545.35,65.13 L546.05,65.13 L546.74,65.13 L547.43,65.13 L548.13,65.13 L548.82,65.12 L549.51,65.12 L550.21,65.12 L550.90,65.12 L551.59,65.12 L552.29,65.12 L552.98,65.12 L553.67,65.12 L554.37,65.12 L555.06,65.12 L555.75,65.12 L556.45,65.12 L557.14,65.12 L557.83,65.12 L558.53,65.12 L559.22,65.12 L559.91,65.12 L560.61,65.12 L561.30,65.12 L561.99,65.12 L562.69,65.12 L563.38,65.12 L564.07,65.12 L564.77,65.12 L565.46,65.12 L566.15,65.12 L566.85,65.12 L567.54,65.12 L568.23,65.12 L568.92,65.12 L569.62,65.12 L570.31,65.12 L571.00,65.12 L571.70,65.12 L572.39,65.12 L573.08,65.12 L573.78,65.12 L574.47,65.12 L575.16,65.12 L575.86,65.12 L576.55,65.12 L577.24,65.12 L577.94,65.12 L578.63,65.12 L579.32,65.12 L580.02,65.12 L580.71,65.12 L581.40,65.12 L582.10,65.12 L582.79,65.12 L583.48,65.12 L584.18,65.12 L584.87,65.12 L585.56,65.12 L586.26,65.12 L586.95,65.12 L587.64,65.12 L588.34,65.12 L589.03,65.12 L589.72,65.12 L590.42,65.12 L591.11,65.12 L591.80,65.12 L592.50,65.12 L593.19,65.12 L593.88,65.12 L594.58,65.12 L595.27,65.12 L595.96,65.12 L596.65,65.12 L597.35,65.12 L598.04,65.12 L598.73,65.12 L599.43,65.12 L600.12,65.12 L600.81,65.12 L601.51,65.12 L602.20,65.12 L602.89,65.12 L603.59,65.12 L604.28,65.12 L604.97,65.12 L605.67,65.12 L606.36,65.12 L607.05,65.12 L607.75,65.12 L608.44,65.12 L609.13,65.12 L609.83,65.12 L610.52,65.12 L611.21,65.12 L611.91,65.12 L612.60,65.12 L613.29,65.12 L613.99,65.12 L614.68,65.12 L615.37,65.12 L616.07,65.12 L616.76,65.12 L617.45,65.12 L618.15,65.12 L618.84,65.12 L619.53,65.12 L620.23,65.12 L620.92,65.12 L621.61,65.12 L622.31,65.12 L623.00,65.12 L623.69,65.12 L624.38,65.12 L625.08,65.12 L625.77,65.12 L626.46,65.12 L627.16,65.12 L627.85,65.12 L628.54,65.12 L629.24,65.12 L629.93,65.12 L630.62,65.12 L631.32,65.12 L632.01,65.12 L632.70,65.12 L633.40,65.12 L634.09,65.12 L634.78,65.12 L635.48,65.12 L636.17,65.12 L636.86,65.12 L637.56,65.12 L638.25,65.12 L638.94,65.12 L639.64,65.12 L640.33,65.12 L641.02,65.12 L641.72,65.12 L642.41,65.12 L643.10,65.12 L643.80,65.12 L644.49,65.12 L645.18,65.12 L645.88,65.12 L646.57,65.12 L647.26,65.12 L647.96,65.12 L648.65,65.12 L649.34,65.12 L650.04,65.12 L650.73,65.12 L651.42,65.12 L652.11,65.12 L652.81,65.12 L653.50,65.12 L654.19,65.12 L654.89,65.12 L655.58,65.12 L656.27,65.12 L656.97,65.12 L657.66,65.12 L658.35,65.12 L659.05,65.12 L659.74,65.12 L660.43,65.12 L661.13,65.12 L661.82,65.12 L662.51,65.12 L663.21,65.12 L663.90,65.12" stroke="#00f" stroke-dasharray="10 13.3 1.6 3.7" stroke-dashoffset="27.97"/>
</g>
<g fill="#fff" stroke-width="1.5">
<rect x="384.40" y="240.10" width="4.4" height="4.4" stroke="#000"/>
<rect x="398.27" y="158.88" width="4.4" height="4.4" stroke="#000"/>
<rect x="412.13" y="103.21" width="4.4" height="4.4" stroke="#000"/>
<rect x="426.00" y="68.77" width="4.4" height="4.4" stroke="#000"/>
<rect x="439.86" y="49.49" width="4.4" height="4.4" stroke="#000"/>
<rect x="453.73" y="39.10" width="4.4" height="4.4" stroke="#000"/>
<rect x="467.59" y="32.60" width="4.4" height="4.4" stroke="#000"/>
<rect x="481.46" y="29.78" width="4.4" height="4.4" stroke="#000"/>
<rect x="495.32" y="27.62" width="4.4" height="4.4" stroke="#000"/>
<rect x="509.19" y="26.10" width="4.4" height="4.4" stroke="#000"/>
<rect x="523.05" y="25.23" width="4.4" height="4.4" stroke="#000"/>
<rect x="536.91" y="24.80" width="4.4" height="4.4" stroke="#000"/>
<rect x="550.78" y="24.15" width="4.4" height="4.4" stroke="#000"/>
<rect x="564.64" y="23.93" width="4.4" height="4.4" stroke="#000"/>
<rect x="578.51" y="23.93" width="4.4" height="4.4" stroke="#000"/>
<rect x="592.38" y="23.72" width="4.4" height="4.4" stroke="#000"/>
<rect x="606.24" y="26.75" width="4.4" height="4.4" stroke="#000"/>
<rect x="620.11" y="26.97" width="4.4" height="4.4" stroke="#000"/>
<rect x="633.97" y="24.15" width="4.4" height="4.4" stroke="#000"/>
<rect x="647.84" y="23.50" width="4.4" height="4.4" stroke="#000"/>
<rect x="661.70" y="21.98" width="4.4" height="4.4" stroke="#000"/>
<circle cx="386.60" cy="242.30" r="2.6" stroke="#f00"/>
<circle cx="400.47" cy="162.16" r="2.6" stroke="#f00"/>
<circle cx="414.33" cy="107.79" r="2.6" stroke="#f00"/>
<circle cx="428.20" cy="78.33" r="2.6" stroke="#f00"/>
<circle cx="442.06" cy="61.44" r="2.6" stroke="#f00"/>
<circle cx="455.93" cy="54.51" r="2.6" stroke="#f00"/>
<circle cx="469.79" cy="50.39" r="2.6" stroke="#f00"/>
<circle cx="483.66" cy="47.58" r="2.6" stroke="#f00"/>
<circle cx="497.52" cy="46.49" r="2.6" stroke="#f00"/>
<circle cx="511.39" cy="45.63" r="2.6" stroke="#f00"/>
<circle cx="525.25" cy="45.50" r="2.6" stroke="#f00"/>
<circle cx="539.12" cy="45.19" r="2.6" stroke="#f00"/>
<circle cx="552.98" cy="44.98" r="2.6" stroke="#f00"/>
<circle cx="566.85" cy="44.98" r="2.6" stroke="#f00"/>
<circle cx="580.71" cy="44.98" r="2.6" stroke="#f00"/>
<circle cx="594.58" cy="44.76" r="2.6" stroke="#f00"/>
<circle cx="608.44" cy="44.76" r="2.6" stroke="#f00"/>
<circle cx="622.31" cy="44.54" r="2.6" stroke="#f00"/>
<circle cx="636.17" cy="44.54" r="2.6" stroke="#f00"/>
<circle cx="650.04" cy="44.54" r="2.6" stroke="#f00"/>
<circle cx="663.90" cy="44.33" r="2.6" stroke="#f00"/>
<path d="M386.60,239.30 L389.50,244.70 L383.70,244.70 Z" stroke="#0f0"/>
<path d="M400.47,160.24 L403.37,165.64 L397.57,165.64 Z" stroke="#0f0"/>
<path d="M414.33,106.74 L417.23,112.14 L411.43,112.14 Z" stroke="#0f0"/>
<path d="M428.20,78.15 L431.10,83.55 L425.30,83.55 Z" stroke="#0f0"/>
<path d="M442.06,65.80 L444.96,71.20 L439.16,71.20 Z" stroke="#0f0"/>
<path d="M455.93,59.74 L458.82,65.14 L453.03,65.14 Z" stroke="#0f0"/>
<path d="M469.79,56.92 L472.69,62.32 L466.89,62.32 Z" stroke="#0f0"/>
<path d="M483.66,55.62 L486.56,61.02 L480.76,61.02 Z" stroke="#0f0"/>
<path d="M497.52,54.11 L500.42,59.51 L494.62,59.51 Z" stroke="#0f0"/>
<path d="M511.39,53.67 L514.29,59.07 L508.49,59.07 Z" stroke="#0f0"/>
<path d="M525.25,53.46 L528.15,58.86 L522.35,58.86 Z" stroke="#0f0"/>
<path d="M539.12,53.24 L542.01,58.64 L536.22,58.64 Z" stroke="#0f0"/>
<path d="M552.98,53.02 L555.88,58.42 L550.08,58.42 Z" stroke="#0f0"/>
<path d="M566.85,53.02 L569.75,58.42 L563.95,58.42 Z" stroke="#0f0"/>
<path d="M580.71,53.02 L583.61,58.42 L577.81,58.42 Z" stroke="#0f0"/>
<path d="M594.58,53.02 L597.48,58.42 L591.68,58.42 Z" stroke="#0f0"/>
<path d="M608.44,52.81 L611.34,58.21 L605.54,58.21 Z" stroke="#0f0"/>
<path d="M622.31,52.81 L625.21,58.21 L619.41,58.21 Z" stroke="#0f0"/>
<path d="M636.17,52.81 L639.07,58.21 L633.27,58.21 Z" stroke="#0f0"/>
<path d="M650.04,52.81 L652.94,58.21 L647.14,58.21 Z" stroke="#0f0"/>
<path d="M663.90,52.81 L666.80,58.21 L661.00,58.21 Z" stroke="#0f0"/>
<path d="M386.60,245.30 L389.50,239.90 L383.70,239.90 Z" stroke="#00f"/>
<path d="M400.47,168.62 L403.37,163.22 L397.57,163.22 Z" stroke="#00f"/>
<path d="M414.33,116.86 L417.23,111.46 L411.43,111.46 Z" stroke="#00f"/>
<path d="M428.20,90.21 L431.10,84.81 L425.30,84.81 Z" stroke="#00f"/>
<path d="M442.06,77.44 L444.96,72.03 L439.16,72.03 Z" stroke="#00f"/>
<path d="M455.93,72.67 L458.82,67.27 L453.03,67.27 Z" stroke="#00f"/>
<path d="M469.79,70.72 L472.69,65.32 L466.89,65.32 Z" stroke="#00f"/>
<path d="M483.66,69.31 L486.56,63.91 L480.76,63.91 Z" stroke="#00f"/>
<path d="M497.52,68.55 L500.42,63.15 L494.62,63.15 Z" stroke="#00f"/>
<path d="M511.39,68.34 L514.29,62.94 L508.49,62.94 Z" stroke="#00f"/>
<path d="M525.25,68.12 L528.15,62.72 L522.35,62.72 Z" stroke="#00f"/>
<path d="M539.12,68.12 L542.01,62.72 L536.22,62.72 Z" stroke="#00f"/>
<path d="M552.98,68.12 L555.88,62.72 L550.08,62.72 Z" stroke="#00f"/>
<path d="M566.85,68.12 L569.75,62.72 L563.95,62.72 Z" stroke="#00f"/>
<path d="M580.71,68.12 L583.61,62.72 L577.81,62.72 Z" stroke="#00f"/>
<path d="M594.58,68.12 L597.48,62.72 L591.68,62.72 Z" stroke="#00f"/>
<path d="M608.44,68.12 L611.34,62.72 L605.54,62.72 Z" stroke="#00f"/>
<path d="M622.31,68.12 L625.21,62.72 L619.41,62.72 Z" stroke="#00f"/>
<path d="M636.17,68.12 L639.07,62.72 L633.27,62.72 Z" stroke="#00f"/>
<path d="M650.04,68.12 L652.94,62.72 L647.14,62.72 Z" stroke="#00f"/>
<path d="M663.90,68.12 L666.80,62.72 L661.00,62.72 Z" stroke="#00f"/>
</g>
<rect x="365.6" y="3.5" width="316.4" height="254.3" fill="none" stroke="#000" stroke-width="1.7"/>
<rect x="471.7" y="159.7" width="172.5" height="62.8" fill="#fff" stroke="#000" stroke-width="1"/>
<line x1="474.3" y1="168.30" x2="497.7" y2="168.30" stroke="#000" stroke-width="1.6"/>
<rect x="483.80" y="166.10" width="4.4" height="4.4" fill="#fff" stroke="#000" stroke-width="1.3"/>
<text x="501.8" y="171.60" font-family="Liberation Serif, serif" font-size="9.6" fill="#111">Fracture roughness coefficient = 0.5</text>
<line x1="474.3" y1="183.50" x2="497.7" y2="183.50" stroke="#f00" stroke-width="1.6" stroke-dasharray="10.5 8.8"/>
<circle cx="486.00" cy="183.50" r="2.6" fill="#fff" stroke="#f00" stroke-width="1.3"/>
<text x="501.8" y="186.80" font-family="Liberation Serif, serif" font-size="9.6" fill="#111">Fracture roughness coefficient = 0.6</text>
<line x1="474.3" y1="199.00" x2="497.7" y2="199.00" stroke="#0f0" stroke-width="1.6" stroke-dasharray="10 6 2 6"/>
<path d="M486.00,196.00 L488.90,201.40 L483.10,201.40 Z" fill="#fff" stroke="#0f0" stroke-width="1.3"/>
<text x="501.8" y="202.30" font-family="Liberation Serif, serif" font-size="9.6" fill="#111">Fracture roughness coefficient = 0.7</text>
<line x1="474.3" y1="214.30" x2="497.7" y2="214.30" stroke="#00f" stroke-width="1.6" stroke-dasharray="11 4 2 4"/>
<path d="M486.00,217.30 L488.90,211.90 L483.10,211.90 Z" fill="#fff" stroke="#00f" stroke-width="1.3"/>
<text x="501.8" y="217.60" font-family="Liberation Serif, serif" font-size="9.6" fill="#111">Fracture roughness coefficient = 0.8</text>
</svg>
</body></html>
